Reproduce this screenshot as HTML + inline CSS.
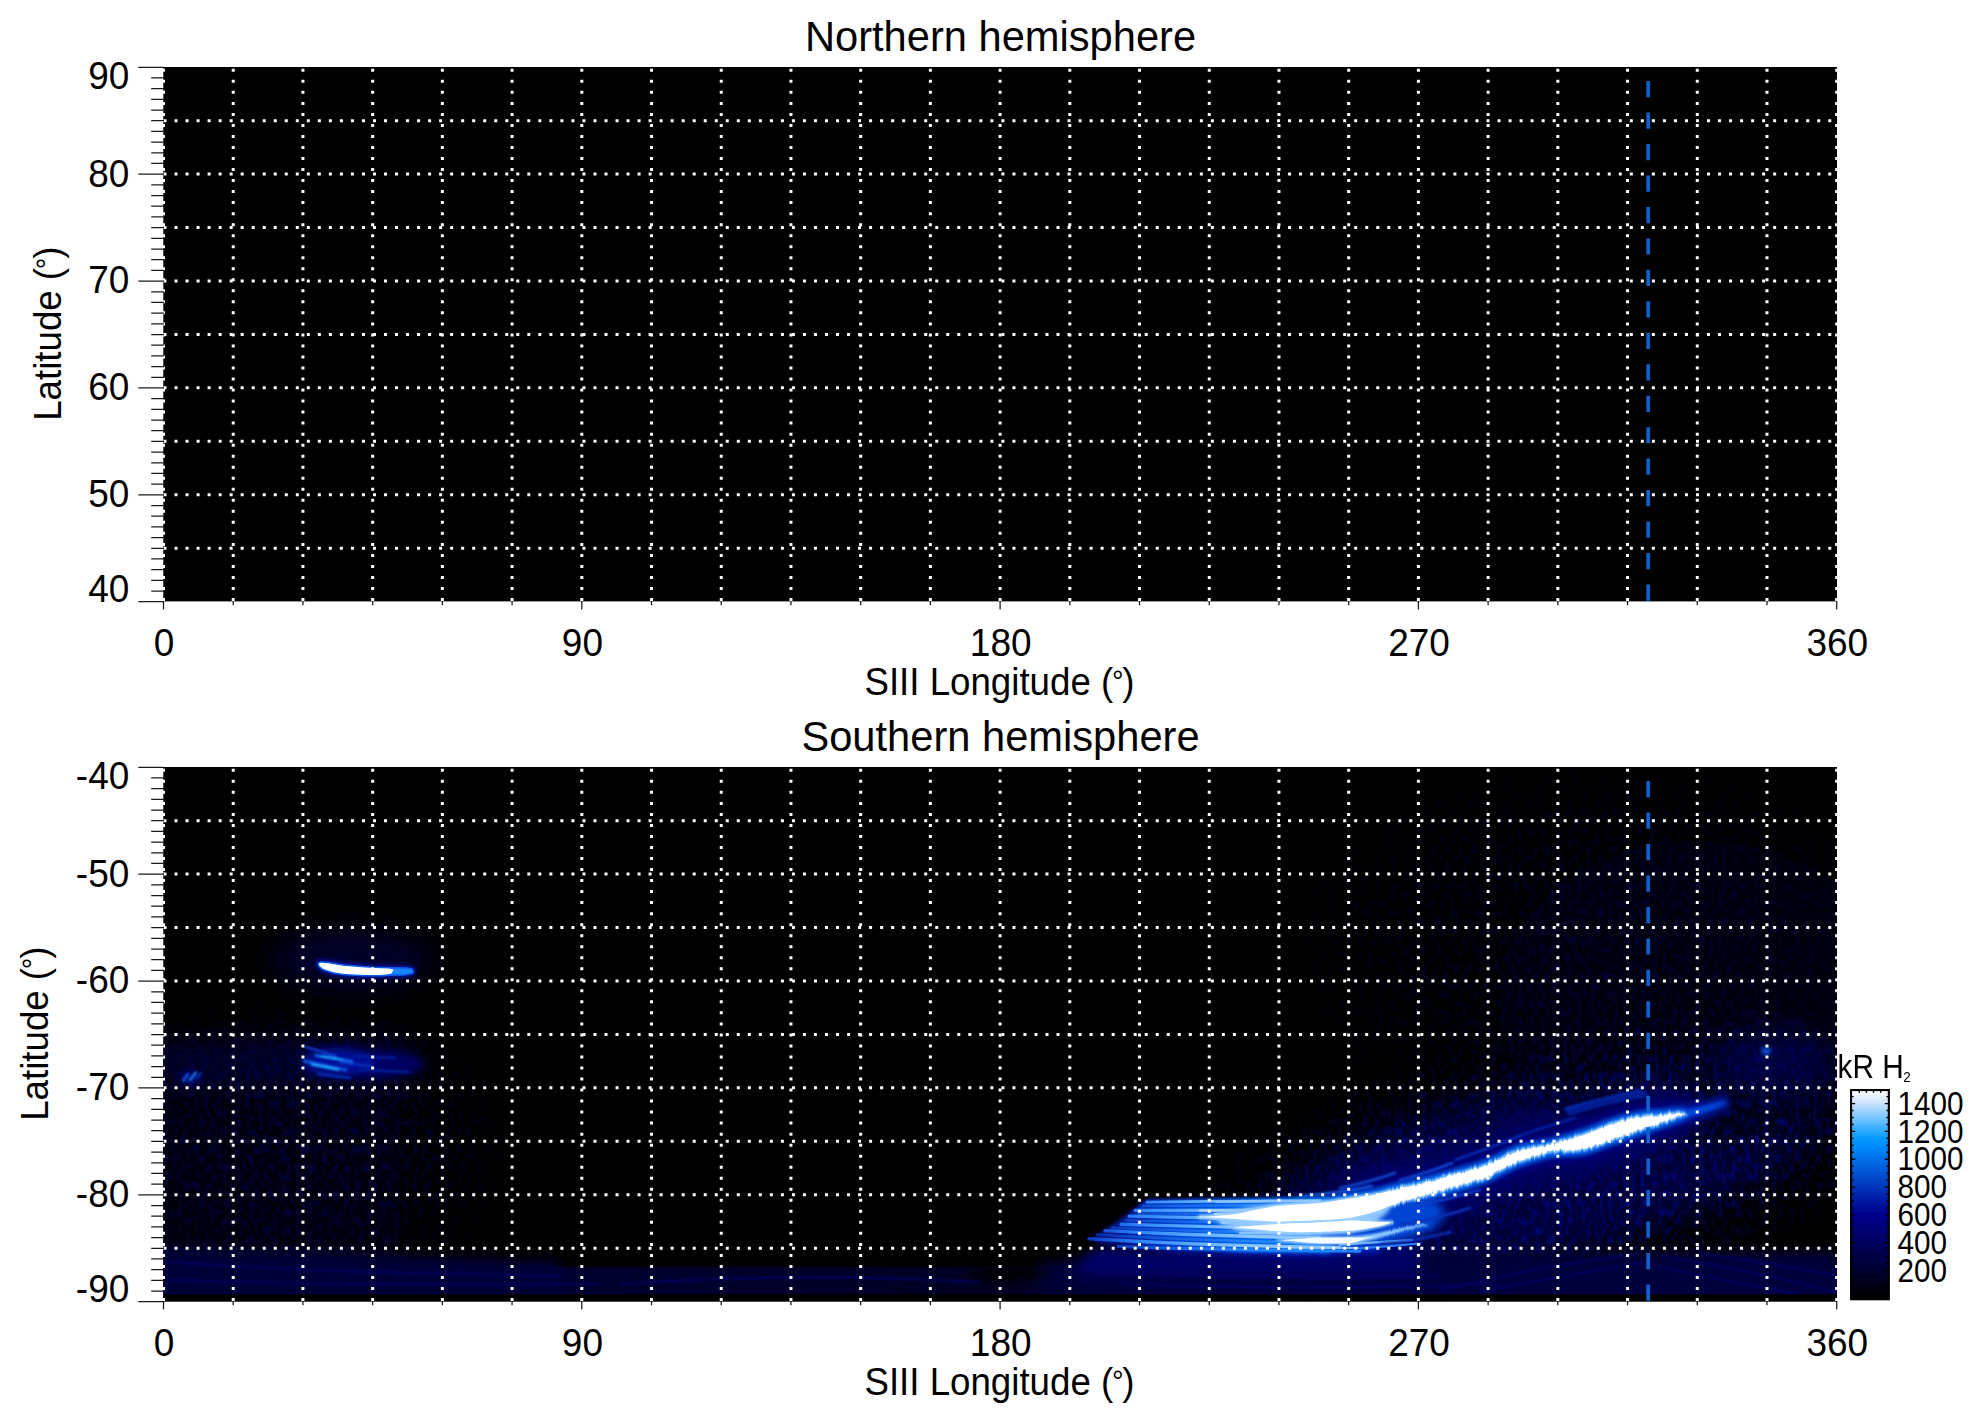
<!DOCTYPE html>
<html lang="en"><head><meta charset="utf-8"><title>Northern / Southern hemisphere maps</title>
<style>html,body{margin:0;padding:0;background:#fff;}body{width:1983px;height:1423px;overflow:hidden;}svg{display:block;}text{font-family:"Liberation Sans", Arial, Helvetica, sans-serif;fill:#000;}</style>
</head><body>
<svg width="1983" height="1423" viewBox="0 0 1983 1423">
<defs>
<linearGradient id="cbar" x1="0" y1="1" x2="0" y2="0">
<stop offset="0" stop-color="#000000"/>
<stop offset="0.41" stop-color="#00008e"/>
<stop offset="0.735" stop-color="#008bff"/>
<stop offset="0.77" stop-color="#009aff"/>
<stop offset="0.9377" stop-color="#c8e1ff"/>
<stop offset="1" stop-color="#fffcff"/>
</linearGradient>
<linearGradient id="band" x1="0" y1="0" x2="1" y2="0">
<stop offset="0" stop-color="#000038"/>
<stop offset="0.25" stop-color="#000030"/>
<stop offset="0.5" stop-color="#000024"/>
<stop offset="0.6" stop-color="#000040"/>
<stop offset="1" stop-color="#000040"/>
</linearGradient>
<linearGradient id="fanfill" gradientUnits="userSpaceOnUse" x1="1090" y1="0" x2="1470" y2="0">
<stop offset="0" stop-color="#000c60"/>
<stop offset="0.1" stop-color="#001c98"/>
<stop offset="0.22" stop-color="#0040d0"/>
<stop offset="0.4" stop-color="#0064f0"/>
<stop offset="0.6" stop-color="#0070f8"/>
<stop offset="0.85" stop-color="#0058e8"/>
<stop offset="1" stop-color="#0030c0"/>
</linearGradient>
<linearGradient id="sgL" gradientUnits="userSpaceOnUse" x1="1089" y1="0" x2="1250" y2="0">
<stop offset="0" stop-color="#0838c4"/>
<stop offset="0.3" stop-color="#2c84fc"/>
<stop offset="0.7" stop-color="#62b0ff"/>
<stop offset="1" stop-color="#8cc6ff"/>
</linearGradient>
<linearGradient id="sgD" gradientUnits="userSpaceOnUse" x1="1089" y1="0" x2="1250" y2="0">
<stop offset="0" stop-color="#0424a0"/>
<stop offset="0.4" stop-color="#0e58e0"/>
<stop offset="1" stop-color="#2484fc"/>
</linearGradient>
<clipPath id="clipL"><rect x="1100" y="1150" width="290" height="120"/></clipPath>
<clipPath id="clipR"><rect x="1390" y="1050" width="400" height="220"/></clipPath>
<clipPath id="clipS"><rect x="163.3" y="767" width="1673.7" height="534.4"/></clipPath>
<filter id="b14" x="-20%" y="-20%" width="140%" height="140%"><feGaussianBlur stdDeviation="14"/></filter>
<filter id="b10" x="-20%" y="-50%" width="140%" height="200%"><feGaussianBlur stdDeviation="10"/></filter>
<filter id="b6" x="-20%" y="-50%" width="140%" height="200%"><feGaussianBlur stdDeviation="6"/></filter>
<filter id="b5" x="-20%" y="-50%" width="140%" height="200%"><feGaussianBlur stdDeviation="5"/></filter>
<filter id="b3" x="-20%" y="-50%" width="140%" height="200%"><feGaussianBlur stdDeviation="3"/></filter>
<filter id="b2" x="-20%" y="-50%" width="140%" height="200%"><feGaussianBlur stdDeviation="2"/></filter>
<filter id="b15" x="-20%" y="-50%" width="140%" height="200%"><feGaussianBlur stdDeviation="1.5"/></filter>
<filter id="b1" x="-20%" y="-50%" width="140%" height="200%"><feGaussianBlur stdDeviation="1"/></filter>
<filter id="b07" x="-20%" y="-50%" width="140%" height="200%"><feGaussianBlur stdDeviation="0.7"/></filter>
<filter id="b06" x="-20%" y="-50%" width="140%" height="200%"><feGaussianBlur stdDeviation="0.6"/></filter>
<filter id="jag" x="-5%" y="-20%" width="110%" height="140%"><feTurbulence type="fractalNoise" baseFrequency="0.35 0.03" numOctaves="2" seed="7" result="n"/><feDisplacementMap in="SourceGraphic" in2="n" scale="5" xChannelSelector="R" yChannelSelector="G"/></filter>
<filter id="noise" x="0" y="0" width="100%" height="100%" color-interpolation-filters="sRGB"><feTurbulence type="fractalNoise" baseFrequency="0.22 0.11" numOctaves="2" seed="11"/><feColorMatrix type="matrix" values="0 0 0 0 0  0 0 0 0 0.02  0 0 0 0 0.5  2.8 0 0 0 -1.2"/></filter>
<radialGradient id="nm1" cx="0.5" cy="0.5" r="0.5"><stop offset="0" stop-color="#fff"/><stop offset="0.55" stop-color="#bbb"/><stop offset="1" stop-color="#000"/></radialGradient>
<mask id="noisemask" maskUnits="userSpaceOnUse" x="160" y="760" width="1680" height="545">
<rect x="160" y="760" width="1680" height="545" fill="#000"/>
<ellipse cx="1560" cy="1165" rx="400" ry="140" fill="url(#nm1)" transform="rotate(-12 1560 1165)"/>
<ellipse cx="1600" cy="950" rx="330" ry="200" fill="url(#nm1)" opacity="0.3"/>
<ellipse cx="300" cy="1150" rx="220" ry="160" fill="url(#nm1)" opacity="0.45"/>
</mask>
</defs>

<rect x="0" y="0" width="1983" height="1423" fill="#fff"/>
<g id="panel0">
<rect x="163.3" y="67.0" width="1673.7" height="534.4" fill="#000"/>
<path d="M163.50 601.00 V67.00 M233.22 601.00 V67.00 M302.93 601.00 V67.00 M372.65 601.00 V67.00 M442.37 601.00 V67.00 M512.08 601.00 V67.00 M581.80 601.00 V67.00 M651.52 601.00 V67.00 M721.23 601.00 V67.00 M790.95 601.00 V67.00 M860.67 601.00 V67.00 M930.38 601.00 V67.00 M1000.10 601.00 V67.00 M1069.82 601.00 V67.00 M1139.53 601.00 V67.00 M1209.25 601.00 V67.00 M1278.97 601.00 V67.00 M1348.68 601.00 V67.00 M1418.40 601.00 V67.00 M1488.12 601.00 V67.00 M1557.83 601.00 V67.00 M1627.55 601.00 V67.00 M1697.27 601.00 V67.00 M1766.98 601.00 V67.00 M1836.70 601.00 V67.00" stroke="#fff" stroke-width="3" stroke-dasharray="3 8.025" fill="none"/>
<path d="M163.50 120.64 H1836.70 M163.50 174.08 H1836.70 M163.50 227.52 H1836.70 M163.50 280.96 H1836.70 M163.50 334.40 H1836.70 M163.50 387.84 H1836.70 M163.50 441.28 H1836.70 M163.50 494.72 H1836.70 M163.50 548.16 H1836.70" stroke="#fff" stroke-width="3" stroke-dasharray="3 8.025" fill="none"/>
<path d="M1648.2 81.1 V601.4" stroke="#0e60cc" stroke-width="3.8" stroke-dasharray="16.2 15.26" fill="none"/>
<path d="M138.3 67.30 H164.00 M151.2 77.99 H164.00 M151.2 88.68 H164.00 M151.2 99.36 H164.00 M151.2 110.05 H164.00 M151.2 120.74 H164.00 M151.2 131.43 H164.00 M151.2 142.12 H164.00 M151.2 152.80 H164.00 M151.2 163.49 H164.00 M138.3 174.18 H164.00 M151.2 184.87 H164.00 M151.2 195.56 H164.00 M151.2 206.24 H164.00 M151.2 216.93 H164.00 M151.2 227.62 H164.00 M151.2 238.31 H164.00 M151.2 249.00 H164.00 M151.2 259.68 H164.00 M151.2 270.37 H164.00 M138.3 281.06 H164.00 M151.2 291.75 H164.00 M151.2 302.44 H164.00 M151.2 313.12 H164.00 M151.2 323.81 H164.00 M151.2 334.50 H164.00 M151.2 345.19 H164.00 M151.2 355.88 H164.00 M151.2 366.56 H164.00 M151.2 377.25 H164.00 M138.3 387.94 H164.00 M151.2 398.63 H164.00 M151.2 409.32 H164.00 M151.2 420.00 H164.00 M151.2 430.69 H164.00 M151.2 441.38 H164.00 M151.2 452.07 H164.00 M151.2 462.76 H164.00 M151.2 473.44 H164.00 M151.2 484.13 H164.00 M138.3 494.82 H164.00 M151.2 505.51 H164.00 M151.2 516.20 H164.00 M151.2 526.88 H164.00 M151.2 537.57 H164.00 M151.2 548.26 H164.00 M151.2 558.95 H164.00 M151.2 569.64 H164.00 M151.2 580.32 H164.00 M151.2 591.01 H164.00 M138.3 601.70 H164.00" stroke="#1a1a1a" stroke-width="1.25" fill="none"/>
<path d="M163.50 600.90 V609.40 M233.22 600.90 V605.20 M302.93 600.90 V605.20 M372.65 600.90 V605.20 M442.37 600.90 V605.20 M512.08 600.90 V605.20 M581.80 600.90 V609.40 M651.52 600.90 V605.20 M721.23 600.90 V605.20 M790.95 600.90 V605.20 M860.67 600.90 V605.20 M930.38 600.90 V605.20 M1000.10 600.90 V609.40 M1069.82 600.90 V605.20 M1139.53 600.90 V605.20 M1209.25 600.90 V605.20 M1278.97 600.90 V605.20 M1348.68 600.90 V605.20 M1418.40 600.90 V609.40 M1488.12 600.90 V605.20 M1557.83 600.90 V605.20 M1627.55 600.90 V605.20 M1697.27 600.90 V605.20 M1766.98 600.90 V605.20 M1836.70 600.90 V609.40" stroke="#1a1a1a" stroke-width="1.25" fill="none"/>
<text transform="translate(129.30 89.40) scale(1 1.050)" font-size="37.00" text-anchor="end">90</text>
<text transform="translate(129.30 186.58) scale(1 1.050)" font-size="37.00" text-anchor="end">80</text>
<text transform="translate(129.30 293.46) scale(1 1.050)" font-size="37.00" text-anchor="end">70</text>
<text transform="translate(129.30 400.34) scale(1 1.050)" font-size="37.00" text-anchor="end">60</text>
<text transform="translate(129.30 507.22) scale(1 1.050)" font-size="37.00" text-anchor="end">50</text>
<text transform="translate(129.30 601.60) scale(1 1.050)" font-size="37.00" text-anchor="end">40</text>
<text transform="translate(164.10 655.90) scale(1 1.050)" font-size="37.00" text-anchor="middle">0</text>
<text transform="translate(582.40 655.90) scale(1 1.050)" font-size="37.00" text-anchor="middle">90</text>
<text transform="translate(1000.70 655.90) scale(1 1.050)" font-size="37.00" text-anchor="middle">180</text>
<text transform="translate(1419.00 655.90) scale(1 1.050)" font-size="37.00" text-anchor="middle">270</text>
<text transform="translate(1837.30 655.90) scale(1 1.050)" font-size="37.00" text-anchor="middle">360</text>
<text transform="translate(999.50 695.00) scale(1 1.050)" font-size="36.70" text-anchor="middle">SIII Longitude (<tspan font-size="28.9" dx="-1.2" dy="-4">°</tspan><tspan dx="-1.2" dy="4">)</tspan></text>
<text transform="translate(1000.50 51.00) scale(1 1.030)" font-size="41.65" text-anchor="middle">Northern hemisphere</text>
<text transform="translate(61.20 333.70) rotate(-90) scale(1 1.050)" font-size="36.70" text-anchor="middle">Latitude (<tspan font-size="28.9" dx="-1.2" dy="-4">°</tspan><tspan dx="-1.2" dy="4">)</tspan></text>
</g>
<g id="panel1">
<rect x="163.3" y="767.0" width="1673.7" height="534.4" fill="#000"/>
<g id="aurora" clip-path="url(#clipS)">
<g filter="url(#b14)">
<ellipse cx="1540" cy="1170" rx="300" ry="85" fill="#000040" opacity="0.85" transform="rotate(-14 1540 1170)"/>
<ellipse cx="1700" cy="1000" rx="200" ry="160" fill="#00000a" opacity="0.8"/>
<ellipse cx="1500" cy="900" rx="250" ry="120" fill="#000007" opacity="0.8"/>
<ellipse cx="1775" cy="1062" rx="55" ry="28" fill="#000040" opacity="0.9"/>
<rect x="150" y="1040" width="262" height="44" fill="#00002c" opacity="0.9"/>
<rect x="150" y="1095" width="250" height="160" fill="#000012" opacity="0.9"/>
<ellipse cx="350" cy="960" rx="80" ry="30" fill="#00002a"/>
</g>
<g mask="url(#noisemask)"><rect x="163" y="767" width="1673" height="535" filter="url(#noise)"/></g>
<rect x="150" y="1267" width="1700" height="27.5" fill="url(#band)"/>
<g filter="url(#b6)">
<path d="M1040 1264 L1100 1256 L1836 1252 L1836 1290 L1040 1290Z" fill="#00003a"/>
<path d="M150 1245 L560 1262 L560 1290 L150 1290Z" fill="#000038"/>
<ellipse cx="1010" cy="1274" rx="45" ry="7" fill="#000"/>
</g>
<g filter="url(#b1)" fill="none" stroke="#00006c" stroke-width="2.2" opacity="0.8">
<path d="M1440 1290 Q1560 1262 1640 1254"/>
<path d="M1480 1292 Q1580 1272 1650 1262"/>
<path d="M1660 1256 Q1740 1268 1836 1292"/>
<path d="M1655 1266 Q1720 1280 1800 1294"/>
<path d="M1100 1272 Q1300 1280 1440 1276"/>
<path d="M1120 1284 Q1300 1290 1500 1284"/>
<path d="M1700 1254 Q1770 1262 1836 1276"/>
<path d="M170 1262 Q300 1272 560 1276"/>
<path d="M170 1280 Q340 1286 600 1284"/>
<path d="M620 1284 Q800 1272 980 1282"/>
</g>
<rect x="150" y="1294.6" width="1700" height="8" fill="#000"/>
<g filter="url(#b10)"><path d="M1349.0 1170.4 L1353.0 1170.0 L1357.0 1169.5 L1361.0 1168.9 L1365.0 1168.2 L1369.0 1167.5 L1373.0 1166.7 L1377.0 1165.9 L1381.0 1165.0 L1385.0 1163.9 L1389.0 1162.7 L1393.0 1161.7 L1397.0 1160.8 L1401.0 1159.9 L1405.0 1159.0 L1409.0 1158.2 L1413.0 1157.3 L1417.0 1156.4 L1421.0 1155.4 L1425.0 1154.4 L1429.0 1153.4 L1433.0 1152.4 L1437.0 1151.4 L1441.0 1150.4 L1445.0 1149.3 L1449.0 1148.3 L1453.0 1147.2 L1457.0 1146.0 L1461.0 1144.9 L1465.0 1143.8 L1469.0 1142.6 L1473.0 1141.4 L1477.0 1140.2 L1481.0 1138.9 L1485.0 1137.5 L1489.0 1135.9 L1493.0 1134.1 L1497.0 1132.2 L1501.0 1130.2 L1505.0 1128.3 L1509.0 1126.4 L1513.0 1124.7 L1517.0 1123.2 L1521.0 1122.0 L1525.0 1121.1 L1529.0 1120.3 L1533.0 1119.7 L1537.0 1119.1 L1541.0 1118.5 L1545.0 1117.8 L1549.0 1117.0 L1553.0 1116.1 L1557.0 1115.0 L1561.0 1113.8 L1565.0 1112.6 L1569.0 1111.3 L1573.0 1110.0 L1577.0 1108.7 L1581.0 1107.4 L1585.0 1106.2 L1589.0 1104.9 L1593.0 1103.4 L1597.0 1101.7 L1601.0 1100.0 L1605.0 1098.4 L1609.0 1096.9 L1613.0 1095.6 L1617.0 1094.3 L1621.0 1093.2 L1625.0 1092.2 L1629.0 1091.2 L1633.0 1090.4 L1637.0 1089.6 L1641.0 1088.9 L1645.0 1088.3 L1649.0 1087.9 L1653.0 1087.7 L1657.0 1087.5 L1661.0 1087.2 L1665.0 1086.9 L1669.0 1086.5 L1673.0 1086.2 L1677.0 1085.9 L1681.0 1085.7 L1706.0 1114.6 L1681.0 1143.6 L1677.0 1145.1 L1673.0 1146.5 L1669.0 1148.0 L1665.0 1149.4 L1661.0 1150.8 L1657.0 1152.1 L1653.0 1153.5 L1649.0 1154.8 L1645.0 1156.1 L1641.0 1157.4 L1637.0 1158.7 L1633.0 1160.1 L1629.0 1161.5 L1625.0 1162.9 L1621.0 1164.4 L1617.0 1165.8 L1613.0 1167.1 L1609.0 1168.5 L1605.0 1169.9 L1601.0 1171.5 L1597.0 1173.0 L1593.0 1174.4 L1589.0 1175.7 L1585.0 1176.8 L1581.0 1177.5 L1577.0 1178.0 L1573.0 1178.3 L1569.0 1178.4 L1565.0 1178.6 L1561.0 1178.7 L1557.0 1179.0 L1553.0 1179.5 L1549.0 1180.2 L1545.0 1181.2 L1541.0 1182.2 L1537.0 1183.4 L1533.0 1184.7 L1529.0 1186.0 L1525.0 1187.3 L1521.0 1188.7 L1517.0 1190.1 L1513.0 1191.8 L1509.0 1193.7 L1505.0 1195.8 L1501.0 1197.9 L1497.0 1200.0 L1493.0 1202.0 L1489.0 1203.9 L1485.0 1205.5 L1481.0 1206.9 L1477.0 1208.3 L1473.0 1209.5 L1469.0 1210.7 L1465.0 1211.9 L1461.0 1213.1 L1457.0 1214.2 L1453.0 1215.4 L1449.0 1216.6 L1445.0 1217.7 L1441.0 1218.9 L1437.0 1220.0 L1433.0 1221.1 L1429.0 1222.2 L1425.0 1223.4 L1421.0 1224.5 L1417.0 1225.7 L1413.0 1226.8 L1409.0 1228.0 L1405.0 1229.1 L1401.0 1230.3 L1397.0 1231.6 L1393.0 1232.9 L1389.0 1234.4 L1385.0 1236.1 L1381.0 1237.8 L1377.0 1239.2 L1373.0 1240.5 L1369.0 1241.7 L1365.0 1242.8 L1361.0 1243.8 L1357.0 1244.7 L1353.0 1245.5 L1349.0 1246.2 L1324.0 1208.3Z" fill="#000064"/></g>
<g filter="url(#b6)"><path d="M1080 1262 L1100 1247 L1180 1252 L1340 1252 L1420 1240 L1420 1275 L1080 1275Z" fill="#000066"/></g>
<g filter="url(#b5)"><path d="M1349.0 1189.9 L1353.0 1189.5 L1357.0 1189.0 L1361.0 1188.4 L1365.0 1187.7 L1369.0 1187.0 L1373.0 1186.2 L1377.0 1185.4 L1381.0 1184.5 L1385.0 1183.4 L1389.0 1182.2 L1393.0 1181.2 L1397.0 1180.3 L1401.0 1179.4 L1405.0 1178.5 L1409.0 1177.7 L1413.0 1176.8 L1417.0 1175.9 L1421.0 1174.9 L1425.0 1173.9 L1429.0 1172.9 L1433.0 1171.9 L1437.0 1170.9 L1441.0 1169.9 L1445.0 1168.8 L1449.0 1167.8 L1453.0 1166.7 L1457.0 1165.5 L1461.0 1164.4 L1465.0 1163.3 L1469.0 1162.1 L1473.0 1160.9 L1477.0 1159.7 L1481.0 1158.4 L1485.0 1157.0 L1489.0 1155.4 L1493.0 1153.6 L1497.0 1151.7 L1501.0 1149.7 L1505.0 1147.8 L1509.0 1145.9 L1513.0 1144.2 L1517.0 1142.7 L1521.0 1141.5 L1525.0 1140.6 L1529.0 1139.8 L1533.0 1139.2 L1537.0 1138.6 L1541.0 1138.0 L1545.0 1137.3 L1549.0 1136.5 L1553.0 1135.6 L1557.0 1134.5 L1561.0 1133.3 L1565.0 1132.1 L1569.0 1130.8 L1573.0 1129.5 L1577.0 1128.2 L1581.0 1126.9 L1585.0 1125.7 L1589.0 1124.4 L1593.0 1122.9 L1597.0 1121.2 L1601.0 1119.5 L1605.0 1117.9 L1609.0 1116.4 L1613.0 1115.1 L1617.0 1113.8 L1621.0 1112.7 L1625.0 1111.7 L1629.0 1110.7 L1633.0 1109.9 L1637.0 1109.1 L1641.0 1108.4 L1645.0 1107.8 L1649.0 1107.4 L1653.0 1107.2 L1657.0 1107.0 L1661.0 1106.7 L1665.0 1106.4 L1669.0 1106.0 L1673.0 1105.7 L1677.0 1105.4 L1681.0 1105.2 L1691.0 1114.6 L1681.0 1124.1 L1677.0 1125.6 L1673.0 1127.0 L1669.0 1128.5 L1665.0 1129.9 L1661.0 1131.3 L1657.0 1132.6 L1653.0 1134.0 L1649.0 1135.3 L1645.0 1136.6 L1641.0 1137.9 L1637.0 1139.2 L1633.0 1140.6 L1629.0 1142.0 L1625.0 1143.4 L1621.0 1144.9 L1617.0 1146.3 L1613.0 1147.6 L1609.0 1149.0 L1605.0 1150.4 L1601.0 1152.0 L1597.0 1153.5 L1593.0 1154.9 L1589.0 1156.2 L1585.0 1157.3 L1581.0 1158.0 L1577.0 1158.5 L1573.0 1158.8 L1569.0 1158.9 L1565.0 1159.1 L1561.0 1159.2 L1557.0 1159.5 L1553.0 1160.0 L1549.0 1160.7 L1545.0 1161.7 L1541.0 1162.7 L1537.0 1163.9 L1533.0 1165.2 L1529.0 1166.5 L1525.0 1167.8 L1521.0 1169.2 L1517.0 1170.6 L1513.0 1172.3 L1509.0 1174.2 L1505.0 1176.3 L1501.0 1178.4 L1497.0 1180.5 L1493.0 1182.5 L1489.0 1184.4 L1485.0 1186.0 L1481.0 1187.4 L1477.0 1188.8 L1473.0 1190.0 L1469.0 1191.2 L1465.0 1192.4 L1461.0 1193.6 L1457.0 1194.7 L1453.0 1195.9 L1449.0 1197.1 L1445.0 1198.2 L1441.0 1199.4 L1437.0 1200.5 L1433.0 1201.6 L1429.0 1202.7 L1425.0 1203.9 L1421.0 1205.0 L1417.0 1206.2 L1413.0 1207.3 L1409.0 1208.5 L1405.0 1209.6 L1401.0 1210.8 L1397.0 1212.1 L1393.0 1213.4 L1389.0 1214.9 L1385.0 1216.6 L1381.0 1218.3 L1377.0 1219.7 L1373.0 1221.0 L1369.0 1222.2 L1365.0 1223.3 L1361.0 1224.3 L1357.0 1225.2 L1353.0 1226.0 L1349.0 1226.7 L1339.0 1208.3Z" fill="#001098"/>
<path d="M1672.0 1108.3 L1676.0 1107.6 L1680.0 1106.8 L1684.0 1106.0 L1688.0 1105.2 L1692.0 1104.3 L1696.0 1103.4 L1700.0 1102.5 L1704.0 1101.5 L1708.0 1100.6 L1712.0 1099.6 L1716.0 1098.6 L1720.0 1097.6 L1724.0 1096.6 L1732.0 1103.0 L1724.0 1109.4 L1720.0 1111.0 L1716.0 1112.5 L1712.0 1114.0 L1708.0 1115.4 L1704.0 1116.8 L1700.0 1118.1 L1696.0 1119.2 L1692.0 1120.3 L1688.0 1121.3 L1684.0 1122.2 L1680.0 1123.1 L1676.0 1123.9 L1672.0 1124.7 L1664.0 1116.5Z" fill="#0018b0"/>
</g>
<g filter="url(#b3)"><path d="M1092 1241 L1146 1202 L1330 1201 L1380 1210 L1380 1253 L1300 1257 L1180 1253Z" fill="#0014a8"/></g>
<g filter="url(#b2)"><path d="M1200.0 1211.1 L1204.0 1210.9 L1208.0 1210.7 L1212.0 1210.4 L1216.0 1210.1 L1220.0 1209.8 L1224.0 1209.5 L1228.0 1209.2 L1232.0 1208.7 L1236.0 1208.2 L1240.0 1207.5 L1244.0 1206.6 L1248.0 1205.6 L1252.0 1204.7 L1256.0 1203.9 L1260.0 1203.1 L1264.0 1202.4 L1268.0 1201.6 L1272.0 1200.9 L1276.0 1200.3 L1280.0 1199.9 L1284.0 1199.6 L1288.0 1199.3 L1292.0 1199.0 L1296.0 1198.8 L1300.0 1198.6 L1304.0 1198.3 L1308.0 1198.1 L1312.0 1197.8 L1316.0 1197.5 L1320.0 1197.2 L1324.0 1196.8 L1328.0 1196.3 L1332.0 1195.7 L1336.0 1195.0 L1340.0 1194.3 L1344.0 1193.7 L1348.0 1193.0 L1352.0 1192.5 L1356.0 1191.9 L1360.0 1191.3 L1364.0 1190.7 L1368.0 1190.1 L1372.0 1189.4 L1376.0 1188.6 L1380.0 1187.7 L1384.0 1186.7 L1388.0 1185.5 L1392.0 1184.5 L1396.0 1183.5 L1400.0 1182.6 L1404.0 1181.8 L1408.0 1180.9 L1412.0 1180.0 L1416.0 1179.1 L1420.0 1178.2 L1424.0 1177.2 L1428.0 1176.2 L1432.0 1175.2 L1436.0 1174.2 L1440.0 1173.1 L1444.0 1172.1 L1448.0 1171.0 L1452.0 1169.9 L1456.0 1168.8 L1460.0 1167.7 L1464.0 1166.6 L1468.0 1165.4 L1472.0 1164.2 L1476.0 1163.0 L1480.0 1161.7 L1484.0 1160.4 L1488.0 1158.8 L1492.0 1157.1 L1496.0 1155.2 L1500.0 1153.2 L1504.0 1151.3 L1508.0 1149.4 L1512.0 1147.6 L1516.0 1146.1 L1520.0 1144.8 L1524.0 1143.8 L1528.0 1143.0 L1532.0 1142.3 L1536.0 1141.7 L1540.0 1141.1 L1544.0 1140.5 L1548.0 1139.7 L1552.0 1138.8 L1556.0 1137.8 L1560.0 1136.6 L1564.0 1135.4 L1568.0 1134.1 L1572.0 1132.8 L1576.0 1131.5 L1580.0 1130.2 L1584.0 1129.0 L1588.0 1127.7 L1592.0 1126.3 L1596.0 1124.7 L1600.0 1123.0 L1604.0 1121.3 L1608.0 1119.7 L1612.0 1118.4 L1616.0 1117.1 L1620.0 1116.0 L1624.0 1114.9 L1628.0 1114.0 L1632.0 1113.1 L1636.0 1112.3 L1640.0 1111.5 L1644.0 1110.9 L1648.0 1110.4 L1652.0 1110.2 L1656.0 1110.0 L1660.0 1109.8 L1664.0 1109.5 L1668.0 1109.1 L1672.0 1108.8 L1676.0 1108.5 L1680.0 1108.2 L1684.0 1108.0 L1692.0 1114.0 L1684.0 1120.0 L1680.0 1121.5 L1676.0 1123.0 L1672.0 1124.4 L1668.0 1125.8 L1664.0 1127.2 L1660.0 1128.6 L1656.0 1130.0 L1652.0 1131.3 L1648.0 1132.6 L1644.0 1133.9 L1640.0 1135.2 L1636.0 1136.5 L1632.0 1137.9 L1628.0 1139.4 L1624.0 1140.8 L1620.0 1142.2 L1616.0 1143.6 L1612.0 1145.0 L1608.0 1146.3 L1604.0 1147.8 L1600.0 1149.3 L1596.0 1150.9 L1592.0 1152.3 L1588.0 1153.5 L1584.0 1154.5 L1580.0 1155.2 L1576.0 1155.6 L1572.0 1155.8 L1568.0 1156.0 L1564.0 1156.1 L1560.0 1156.3 L1556.0 1156.6 L1552.0 1157.1 L1548.0 1157.9 L1544.0 1158.9 L1540.0 1160.0 L1536.0 1161.2 L1532.0 1162.5 L1528.0 1163.8 L1524.0 1165.2 L1520.0 1166.6 L1516.0 1168.0 L1512.0 1169.8 L1508.0 1171.7 L1504.0 1173.8 L1500.0 1175.9 L1496.0 1178.0 L1492.0 1180.0 L1488.0 1181.8 L1484.0 1183.4 L1480.0 1184.8 L1476.0 1186.1 L1472.0 1187.3 L1468.0 1188.5 L1464.0 1189.7 L1460.0 1190.9 L1456.0 1192.0 L1452.0 1193.2 L1448.0 1194.4 L1444.0 1195.5 L1440.0 1196.6 L1436.0 1197.8 L1432.0 1198.9 L1428.0 1200.0 L1424.0 1201.2 L1420.0 1202.3 L1416.0 1203.5 L1412.0 1204.6 L1408.0 1205.7 L1404.0 1206.9 L1400.0 1208.1 L1396.0 1209.4 L1392.0 1210.7 L1388.0 1212.3 L1384.0 1214.0 L1380.0 1215.7 L1376.0 1217.0 L1372.0 1218.3 L1368.0 1219.5 L1364.0 1220.5 L1360.0 1221.6 L1356.0 1222.4 L1352.0 1223.2 L1348.0 1223.8 L1344.0 1224.3 L1340.0 1224.7 L1336.0 1225.1 L1332.0 1225.3 L1328.0 1225.6 L1324.0 1225.8 L1320.0 1225.9 L1316.0 1226.1 L1312.0 1226.3 L1308.0 1226.5 L1304.0 1226.6 L1300.0 1226.7 L1296.0 1226.9 L1292.0 1227.0 L1288.0 1227.1 L1284.0 1227.2 L1280.0 1227.3 L1276.0 1227.3 L1272.0 1227.3 L1268.0 1227.1 L1264.0 1226.9 L1260.0 1226.6 L1256.0 1226.4 L1252.0 1226.1 L1248.0 1225.8 L1244.0 1225.5 L1240.0 1225.2 L1236.0 1224.8 L1232.0 1224.6 L1228.0 1224.3 L1224.0 1224.1 L1220.0 1223.9 L1216.0 1223.7 L1212.0 1223.4 L1208.0 1223.3 L1204.0 1223.1 L1200.0 1222.9 L1192.0 1217.0Z" fill="#0068f0"/>
<path d="M1672.0 1112.8 L1676.0 1112.1 L1680.0 1111.3 L1684.0 1110.5 L1688.0 1109.7 L1692.0 1108.8 L1696.0 1107.9 L1700.0 1107.0 L1704.0 1106.0 L1708.0 1105.1 L1712.0 1104.1 L1716.0 1103.1 L1720.0 1102.1 L1724.0 1101.1 L1728.0 1103.0 L1724.0 1104.9 L1720.0 1106.5 L1716.0 1108.0 L1712.0 1109.5 L1708.0 1110.9 L1704.0 1112.3 L1700.0 1113.6 L1696.0 1114.7 L1692.0 1115.8 L1688.0 1116.8 L1684.0 1117.7 L1680.0 1118.6 L1676.0 1119.4 L1672.0 1120.2 L1668.0 1116.5Z" fill="#0050e0"/>
<path d="M1235.0 1221.9 L1239.0 1221.6 L1243.0 1221.3 L1247.0 1220.9 L1251.0 1220.6 L1255.0 1220.3 L1259.0 1220.1 L1263.0 1219.8 L1267.0 1219.5 L1271.0 1219.2 L1275.0 1218.9 L1279.0 1218.6 L1283.0 1218.4 L1287.0 1218.2 L1291.0 1218.0 L1295.0 1218.0 L1299.0 1217.8 L1303.0 1217.7 L1307.0 1217.6 L1311.0 1217.4 L1315.0 1217.2 L1319.0 1217.0 L1323.0 1216.8 L1327.0 1216.5 L1331.0 1216.3 L1335.0 1216.1 L1339.0 1215.9 L1343.0 1215.7 L1347.0 1215.5 L1351.0 1215.3 L1355.0 1215.3 L1359.0 1215.5 L1363.0 1215.7 L1367.0 1216.0 L1371.0 1216.3 L1375.0 1216.5 L1379.0 1216.7 L1383.0 1216.8 L1387.0 1216.9 L1391.0 1216.9 L1399.0 1222.4 L1391.0 1227.9 L1387.0 1229.2 L1383.0 1230.5 L1379.0 1231.5 L1375.0 1232.3 L1371.0 1233.1 L1367.0 1233.8 L1363.0 1234.5 L1359.0 1235.1 L1355.0 1235.6 L1351.0 1235.9 L1347.0 1236.1 L1343.0 1236.3 L1339.0 1236.4 L1335.0 1236.6 L1331.0 1236.8 L1327.0 1236.9 L1323.0 1237.1 L1319.0 1237.2 L1315.0 1237.3 L1311.0 1237.4 L1307.0 1237.4 L1303.0 1237.5 L1299.0 1237.5 L1295.0 1237.4 L1291.0 1237.3 L1287.0 1237.2 L1283.0 1236.9 L1279.0 1236.6 L1275.0 1236.3 L1271.0 1236.0 L1267.0 1235.6 L1263.0 1235.2 L1259.0 1234.9 L1255.0 1234.6 L1251.0 1234.3 L1247.0 1233.9 L1243.0 1233.6 L1239.0 1233.3 L1235.0 1232.9 L1227.0 1227.4Z" fill="#0068f0"/>
<path d="M1280.0 1236.2 L1284.0 1235.9 L1288.0 1235.5 L1292.0 1235.2 L1296.0 1234.9 L1300.0 1234.6 L1304.0 1234.4 L1308.0 1234.2 L1312.0 1234.1 L1316.0 1233.9 L1320.0 1233.9 L1324.0 1233.9 L1328.0 1233.9 L1332.0 1233.9 L1336.0 1233.8 L1340.0 1233.8 L1344.0 1233.8 L1348.0 1233.7 L1352.0 1233.6 L1356.0 1233.4 L1360.0 1233.1 L1364.0 1232.6 L1368.0 1232.1 L1372.0 1231.6 L1376.0 1230.9 L1380.0 1230.1 L1384.0 1229.2 L1388.0 1228.3 L1392.0 1227.4 L1396.0 1226.6 L1400.0 1225.8 L1404.0 1225.1 L1408.0 1224.3 L1412.0 1223.6 L1416.0 1222.9 L1420.0 1222.2 L1424.0 1221.5 L1434.0 1225.0 L1424.0 1228.5 L1420.0 1229.4 L1416.0 1230.4 L1412.0 1231.4 L1408.0 1232.4 L1404.0 1233.4 L1400.0 1234.5 L1396.0 1235.5 L1392.0 1236.6 L1388.0 1237.8 L1384.0 1239.0 L1380.0 1240.2 L1376.0 1241.4 L1372.0 1242.4 L1368.0 1243.4 L1364.0 1244.4 L1360.0 1245.4 L1356.0 1246.2 L1352.0 1246.7 L1348.0 1246.9 L1344.0 1247.0 L1340.0 1247.0 L1336.0 1247.0 L1332.0 1247.1 L1328.0 1247.1 L1324.0 1247.1 L1320.0 1247.1 L1316.0 1247.0 L1312.0 1246.9 L1308.0 1246.7 L1304.0 1246.5 L1300.0 1246.2 L1296.0 1245.9 L1292.0 1245.5 L1288.0 1245.1 L1284.0 1244.7 L1280.0 1244.2 L1270.0 1240.2Z" fill="#0060e8"/>
</g>
<g filter="url(#b15)"><path d="M1090 1239.5 L1120 1221.5 L1147 1199.3 L1300 1197.5 L1330 1198 L1330 1253.5 L1240 1252.5 L1180 1249 L1130 1244.5Z" fill="url(#fanfill)"/></g>
<g filter="url(#b5)"><path d="M1320 1204 L1400 1196 L1436 1200 L1446 1214 L1434 1228 L1408 1239 L1380 1246 L1320 1250Z" fill="#0044d4"/></g>
<g filter="url(#b07)" stroke-linecap="round" fill="none">
<path d="M1147.0 1202.2 Q1224.8 1201.0 1320.0 1200.6" stroke="url(#sgL)" stroke-width="2.8"/>
<path d="M1143.0 1206.0 Q1222.7 1205.1 1320.0 1204.8" stroke="url(#sgD)" stroke-width="2.4"/>
<path d="M1135.0 1210.3 Q1218.2 1210.2 1320.0 1210.2" stroke="url(#sgL)" stroke-width="3.2"/>
<path d="M1138.0 1213.6 Q1219.9 1213.9 1320.0 1214.0" stroke="url(#sgD)" stroke-width="2.4"/>
<path d="M1129.0 1216.2 Q1215.0 1218.0 1320.0 1218.6" stroke="url(#sgL)" stroke-width="3.2"/>
<path d="M1126.0 1220.2 Q1213.3 1222.6 1320.0 1223.4" stroke="url(#sgD)" stroke-width="2.4"/>
<path d="M1121.0 1224.2 Q1210.5 1227.4 1320.0 1228.4" stroke="url(#sgL)" stroke-width="3.4"/>
<path d="M1112.0 1227.6 Q1205.6 1232.0 1320.0 1233.4" stroke="url(#sgD)" stroke-width="2.6"/>
<path d="M1105.0 1230.6 Q1201.8 1236.0 1320.0 1237.8" stroke="url(#sgL)" stroke-width="3.4"/>
<path d="M1097.0 1234.6 Q1197.3 1240.6 1320.0 1242.6" stroke="url(#sgD)" stroke-width="2.8"/>
<path d="M1089.0 1238.8 Q1202.0 1245.4 1340.0 1247.6" stroke="url(#sgL)" stroke-width="3.4"/>
<path d="M1118.0 1246.6 Q1226.9 1250.0 1360.0 1251.2" stroke="url(#sgD)" stroke-width="3.0"/>
</g>
<g filter="url(#b07)" stroke-linecap="round" fill="none">
<path d="M1200.0 1210.5 L1300.0 1210.2" stroke="#a8d0ff" stroke-width="2.6"/>
<path d="M1215.0 1214.0 L1300.0 1214.0" stroke="#c8e2ff" stroke-width="2.6"/>
<path d="M1212.0 1218.0 L1300.0 1218.5" stroke="#d4e8ff" stroke-width="3.0"/>
<path d="M1222.0 1222.6 L1300.0 1223.3" stroke="#a8d0ff" stroke-width="2.6"/>
<path d="M1240.0 1227.4 L1300.0 1228.2" stroke="#e0efff" stroke-width="3.0"/>
<path d="M1216.0 1202.0 L1300.0 1201.0" stroke="#8cc2ff" stroke-width="2.0"/>
<path d="M1240.0 1233.0 L1310.0 1233.6" stroke="#8cc2ff" stroke-width="2.4"/>
<path d="M1290.0 1247.4 L1358.0 1248.0" stroke="#8cc4ff" stroke-width="2.2"/>
<path d="M1340.0 1244.6 L1412.0 1240.0" stroke="#6ab0ff" stroke-width="2.4"/>
<path d="M1360.0 1248.4 L1420.0 1243.5" stroke="#2c80f8" stroke-width="2.2"/>
</g>
<g filter="url(#b2)"><path d="M1218 1214 L1250 1207 L1300 1203 L1360 1200 L1392 1199 L1388 1212 L1372 1226 L1350 1233 L1320 1235 L1280 1235 L1240 1231 L1218 1223Z" fill="#8cc4ff"/></g>
<g clip-path="url(#clipL)">
<g filter="url(#b1)"><path d="M1200.0 1214.8 L1204.0 1214.6 L1208.0 1214.4 L1212.0 1214.1 L1216.0 1213.8 L1220.0 1213.5 L1224.0 1213.2 L1228.0 1212.9 L1232.0 1212.4 L1236.0 1211.9 L1240.0 1211.2 L1244.0 1210.3 L1248.0 1209.3 L1252.0 1208.4 L1256.0 1207.6 L1260.0 1206.8 L1264.0 1206.1 L1268.0 1205.3 L1272.0 1204.6 L1276.0 1204.0 L1280.0 1203.6 L1284.0 1203.3 L1288.0 1203.0 L1292.0 1202.7 L1296.0 1202.5 L1300.0 1202.3 L1304.0 1202.0 L1308.0 1201.8 L1312.0 1201.5 L1316.0 1201.2 L1320.0 1200.9 L1324.0 1200.5 L1328.0 1200.0 L1332.0 1199.4 L1336.0 1198.7 L1340.0 1198.0 L1344.0 1197.4 L1348.0 1196.7 L1352.0 1196.2 L1356.0 1195.6 L1360.0 1195.0 L1364.0 1194.4 L1368.0 1193.8 L1372.0 1193.1 L1376.0 1192.3 L1380.0 1191.4 L1384.0 1190.4 L1388.0 1189.2 L1392.0 1188.2 L1396.0 1187.2 L1400.0 1186.3 L1404.0 1185.5 L1408.0 1184.6 L1412.0 1183.7 L1416.0 1182.8 L1420.0 1181.9 L1424.0 1180.9 L1428.0 1179.9 L1432.0 1178.9 L1436.0 1177.9 L1440.0 1176.8 L1444.0 1175.8 L1448.0 1174.7 L1452.0 1173.6 L1456.0 1172.5 L1460.0 1171.4 L1464.0 1170.3 L1468.0 1169.1 L1472.0 1167.9 L1476.0 1166.7 L1480.0 1165.4 L1484.0 1164.1 L1488.0 1162.5 L1492.0 1160.8 L1496.0 1158.9 L1500.0 1156.9 L1504.0 1155.0 L1508.0 1153.1 L1512.0 1151.3 L1516.0 1149.8 L1520.0 1148.5 L1524.0 1147.5 L1528.0 1146.7 L1532.0 1146.0 L1536.0 1145.4 L1540.0 1144.8 L1544.0 1144.2 L1548.0 1143.4 L1552.0 1142.5 L1556.0 1141.5 L1560.0 1140.3 L1564.0 1139.1 L1568.0 1137.8 L1572.0 1136.5 L1576.0 1135.2 L1580.0 1133.9 L1584.0 1132.7 L1588.0 1131.4 L1592.0 1130.0 L1596.0 1128.4 L1600.0 1126.7 L1604.0 1125.0 L1608.0 1123.4 L1612.0 1122.1 L1616.0 1120.8 L1620.0 1119.7 L1624.0 1118.6 L1628.0 1117.7 L1632.0 1116.8 L1636.0 1116.0 L1640.0 1115.2 L1644.0 1114.6 L1648.0 1114.1 L1652.0 1113.9 L1656.0 1113.7 L1660.0 1113.5 L1664.0 1113.2 L1668.0 1112.8 L1672.0 1112.5 L1676.0 1112.2 L1680.0 1111.9 L1684.0 1111.7 L1688.0 1114.0 L1684.0 1116.3 L1680.0 1117.8 L1676.0 1119.3 L1672.0 1120.7 L1668.0 1122.1 L1664.0 1123.5 L1660.0 1124.9 L1656.0 1126.3 L1652.0 1127.6 L1648.0 1128.9 L1644.0 1130.2 L1640.0 1131.5 L1636.0 1132.8 L1632.0 1134.2 L1628.0 1135.7 L1624.0 1137.1 L1620.0 1138.5 L1616.0 1139.9 L1612.0 1141.3 L1608.0 1142.6 L1604.0 1144.1 L1600.0 1145.6 L1596.0 1147.2 L1592.0 1148.6 L1588.0 1149.8 L1584.0 1150.8 L1580.0 1151.5 L1576.0 1151.9 L1572.0 1152.1 L1568.0 1152.3 L1564.0 1152.4 L1560.0 1152.6 L1556.0 1152.9 L1552.0 1153.4 L1548.0 1154.2 L1544.0 1155.2 L1540.0 1156.3 L1536.0 1157.5 L1532.0 1158.8 L1528.0 1160.1 L1524.0 1161.5 L1520.0 1162.9 L1516.0 1164.3 L1512.0 1166.1 L1508.0 1168.0 L1504.0 1170.1 L1500.0 1172.2 L1496.0 1174.3 L1492.0 1176.3 L1488.0 1178.1 L1484.0 1179.7 L1480.0 1181.1 L1476.0 1182.4 L1472.0 1183.6 L1468.0 1184.8 L1464.0 1186.0 L1460.0 1187.2 L1456.0 1188.3 L1452.0 1189.5 L1448.0 1190.7 L1444.0 1191.8 L1440.0 1192.9 L1436.0 1194.1 L1432.0 1195.2 L1428.0 1196.3 L1424.0 1197.5 L1420.0 1198.6 L1416.0 1199.8 L1412.0 1200.9 L1408.0 1202.0 L1404.0 1203.2 L1400.0 1204.4 L1396.0 1205.7 L1392.0 1207.0 L1388.0 1208.6 L1384.0 1210.3 L1380.0 1212.0 L1376.0 1213.3 L1372.0 1214.6 L1368.0 1215.8 L1364.0 1216.8 L1360.0 1217.9 L1356.0 1218.7 L1352.0 1219.5 L1348.0 1220.1 L1344.0 1220.6 L1340.0 1221.0 L1336.0 1221.4 L1332.0 1221.6 L1328.0 1221.9 L1324.0 1222.1 L1320.0 1222.2 L1316.0 1222.4 L1312.0 1222.6 L1308.0 1222.8 L1304.0 1222.9 L1300.0 1223.0 L1296.0 1223.2 L1292.0 1223.3 L1288.0 1223.4 L1284.0 1223.5 L1280.0 1223.6 L1276.0 1223.6 L1272.0 1223.6 L1268.0 1223.4 L1264.0 1223.2 L1260.0 1222.9 L1256.0 1222.7 L1252.0 1222.4 L1248.0 1222.1 L1244.0 1221.8 L1240.0 1221.5 L1236.0 1221.1 L1232.0 1220.9 L1228.0 1220.6 L1224.0 1220.4 L1220.0 1220.2 L1216.0 1220.0 L1212.0 1219.7 L1208.0 1219.6 L1204.0 1219.4 L1200.0 1219.2 L1196.0 1217.0Z" fill="#9cd0ff"/>
<path d="M1235.0 1225.4 L1239.0 1225.1 L1243.0 1224.8 L1247.0 1224.4 L1251.0 1224.1 L1255.0 1223.8 L1259.0 1223.6 L1263.0 1223.3 L1267.0 1223.0 L1271.0 1222.7 L1275.0 1222.4 L1279.0 1222.1 L1283.0 1221.9 L1287.0 1221.7 L1291.0 1221.5 L1295.0 1221.5 L1299.0 1221.3 L1303.0 1221.2 L1307.0 1221.1 L1311.0 1220.9 L1315.0 1220.7 L1319.0 1220.5 L1323.0 1220.3 L1327.0 1220.0 L1331.0 1219.8 L1335.0 1219.6 L1339.0 1219.4 L1343.0 1219.2 L1347.0 1219.0 L1351.0 1218.8 L1355.0 1218.8 L1359.0 1219.0 L1363.0 1219.2 L1367.0 1219.5 L1371.0 1219.8 L1375.0 1220.0 L1379.0 1220.2 L1383.0 1220.3 L1387.0 1220.4 L1391.0 1220.4 L1395.0 1222.4 L1391.0 1224.4 L1387.0 1225.7 L1383.0 1227.0 L1379.0 1228.0 L1375.0 1228.8 L1371.0 1229.6 L1367.0 1230.3 L1363.0 1231.0 L1359.0 1231.6 L1355.0 1232.1 L1351.0 1232.4 L1347.0 1232.6 L1343.0 1232.8 L1339.0 1232.9 L1335.0 1233.1 L1331.0 1233.3 L1327.0 1233.4 L1323.0 1233.6 L1319.0 1233.7 L1315.0 1233.8 L1311.0 1233.9 L1307.0 1233.9 L1303.0 1234.0 L1299.0 1234.0 L1295.0 1233.9 L1291.0 1233.8 L1287.0 1233.7 L1283.0 1233.4 L1279.0 1233.1 L1275.0 1232.8 L1271.0 1232.5 L1267.0 1232.1 L1263.0 1231.7 L1259.0 1231.4 L1255.0 1231.1 L1251.0 1230.8 L1247.0 1230.4 L1243.0 1230.1 L1239.0 1229.8 L1235.0 1229.4 L1231.0 1227.4Z" fill="#9cd0ff"/>
<path d="M1280.0 1238.6 L1284.0 1238.3 L1288.0 1237.9 L1292.0 1237.6 L1296.0 1237.3 L1300.0 1237.0 L1304.0 1236.8 L1308.0 1236.6 L1312.0 1236.5 L1316.0 1236.3 L1320.0 1236.3 L1324.0 1236.3 L1328.0 1236.3 L1332.0 1236.3 L1336.0 1236.2 L1340.0 1236.2 L1344.0 1236.2 L1348.0 1236.1 L1352.0 1236.0 L1356.0 1235.8 L1360.0 1235.5 L1364.0 1235.0 L1368.0 1234.5 L1372.0 1234.0 L1376.0 1233.3 L1380.0 1232.5 L1384.0 1231.6 L1388.0 1230.7 L1392.0 1229.8 L1396.0 1229.0 L1400.0 1228.2 L1404.0 1227.5 L1408.0 1226.7 L1412.0 1226.0 L1416.0 1225.3 L1420.0 1224.6 L1424.0 1223.9 L1429.0 1225.0 L1424.0 1226.1 L1420.0 1227.0 L1416.0 1228.0 L1412.0 1229.0 L1408.0 1230.0 L1404.0 1231.0 L1400.0 1232.1 L1396.0 1233.1 L1392.0 1234.2 L1388.0 1235.4 L1384.0 1236.6 L1380.0 1237.8 L1376.0 1239.0 L1372.0 1240.0 L1368.0 1241.0 L1364.0 1242.0 L1360.0 1243.0 L1356.0 1243.8 L1352.0 1244.3 L1348.0 1244.5 L1344.0 1244.6 L1340.0 1244.6 L1336.0 1244.6 L1332.0 1244.7 L1328.0 1244.7 L1324.0 1244.7 L1320.0 1244.7 L1316.0 1244.6 L1312.0 1244.5 L1308.0 1244.3 L1304.0 1244.1 L1300.0 1243.8 L1296.0 1243.5 L1292.0 1243.1 L1288.0 1242.7 L1284.0 1242.3 L1280.0 1241.8 L1275.0 1240.2Z" fill="#8cc8ff"/>
</g>
<g filter="url(#b06)"><path d="M1200.0 1216.8 L1204.0 1216.7 L1208.0 1216.5 L1212.0 1216.2 L1216.0 1215.9 L1220.0 1215.6 L1224.0 1215.3 L1228.0 1215.0 L1232.0 1214.5 L1236.0 1214.0 L1240.0 1213.3 L1244.0 1212.4 L1248.0 1211.4 L1252.0 1210.5 L1256.0 1209.7 L1260.0 1208.9 L1264.0 1208.2 L1268.0 1207.4 L1272.0 1206.7 L1276.0 1206.1 L1280.0 1205.7 L1284.0 1205.4 L1288.0 1205.1 L1292.0 1204.8 L1296.0 1204.6 L1300.0 1204.4 L1304.0 1204.1 L1308.0 1203.9 L1312.0 1203.6 L1316.0 1203.3 L1320.0 1203.0 L1324.0 1202.6 L1328.0 1202.1 L1332.0 1201.5 L1336.0 1200.8 L1340.0 1200.1 L1344.0 1199.5 L1348.0 1198.8 L1352.0 1198.3 L1356.0 1197.7 L1360.0 1197.1 L1364.0 1196.5 L1368.0 1195.9 L1372.0 1195.2 L1376.0 1194.4 L1380.0 1193.5 L1384.0 1192.5 L1388.0 1191.3 L1392.0 1190.3 L1396.0 1189.3 L1400.0 1188.4 L1404.0 1187.6 L1408.0 1186.7 L1412.0 1185.8 L1416.0 1184.9 L1420.0 1184.0 L1424.0 1183.0 L1428.0 1182.0 L1432.0 1181.0 L1436.0 1180.0 L1440.0 1178.9 L1444.0 1177.9 L1448.0 1176.8 L1452.0 1175.7 L1456.0 1174.6 L1460.0 1173.5 L1464.0 1172.4 L1468.0 1171.2 L1472.0 1170.0 L1476.0 1168.8 L1480.0 1167.5 L1484.0 1166.2 L1488.0 1164.6 L1492.0 1162.9 L1496.0 1161.0 L1500.0 1159.0 L1504.0 1157.1 L1508.0 1155.2 L1512.0 1153.4 L1516.0 1151.9 L1520.0 1150.6 L1524.0 1149.6 L1528.0 1148.8 L1532.0 1148.1 L1536.0 1147.5 L1540.0 1146.9 L1544.0 1146.3 L1548.0 1145.5 L1552.0 1144.6 L1556.0 1143.6 L1560.0 1142.4 L1564.0 1141.2 L1568.0 1139.9 L1572.0 1138.6 L1576.0 1137.3 L1580.0 1136.0 L1584.0 1134.8 L1588.0 1133.5 L1592.0 1132.1 L1596.0 1130.5 L1600.0 1128.8 L1604.0 1127.1 L1608.0 1125.5 L1612.0 1124.2 L1616.0 1122.9 L1620.0 1121.8 L1624.0 1120.7 L1628.0 1119.8 L1632.0 1118.9 L1636.0 1118.1 L1640.0 1117.3 L1644.0 1116.7 L1648.0 1116.2 L1652.0 1116.0 L1656.0 1115.8 L1660.0 1115.6 L1664.0 1115.3 L1668.0 1114.9 L1672.0 1114.6 L1676.0 1114.3 L1680.0 1114.0 L1684.0 1113.8 L1686.0 1114.0 L1684.0 1114.2 L1680.0 1115.7 L1676.0 1117.2 L1672.0 1118.6 L1668.0 1120.0 L1664.0 1121.4 L1660.0 1122.8 L1656.0 1124.2 L1652.0 1125.5 L1648.0 1126.8 L1644.0 1128.1 L1640.0 1129.4 L1636.0 1130.7 L1632.0 1132.1 L1628.0 1133.6 L1624.0 1135.0 L1620.0 1136.4 L1616.0 1137.8 L1612.0 1139.2 L1608.0 1140.5 L1604.0 1142.0 L1600.0 1143.5 L1596.0 1145.1 L1592.0 1146.5 L1588.0 1147.7 L1584.0 1148.7 L1580.0 1149.4 L1576.0 1149.8 L1572.0 1150.0 L1568.0 1150.2 L1564.0 1150.3 L1560.0 1150.5 L1556.0 1150.8 L1552.0 1151.3 L1548.0 1152.1 L1544.0 1153.1 L1540.0 1154.2 L1536.0 1155.4 L1532.0 1156.7 L1528.0 1158.0 L1524.0 1159.4 L1520.0 1160.8 L1516.0 1162.2 L1512.0 1164.0 L1508.0 1165.9 L1504.0 1168.0 L1500.0 1170.1 L1496.0 1172.2 L1492.0 1174.2 L1488.0 1176.0 L1484.0 1177.6 L1480.0 1179.0 L1476.0 1180.3 L1472.0 1181.5 L1468.0 1182.7 L1464.0 1183.9 L1460.0 1185.1 L1456.0 1186.2 L1452.0 1187.4 L1448.0 1188.6 L1444.0 1189.7 L1440.0 1190.8 L1436.0 1192.0 L1432.0 1193.1 L1428.0 1194.2 L1424.0 1195.4 L1420.0 1196.5 L1416.0 1197.7 L1412.0 1198.8 L1408.0 1199.9 L1404.0 1201.1 L1400.0 1202.3 L1396.0 1203.6 L1392.0 1204.9 L1388.0 1206.5 L1384.0 1208.2 L1380.0 1209.9 L1376.0 1211.2 L1372.0 1212.5 L1368.0 1213.7 L1364.0 1214.7 L1360.0 1215.8 L1356.0 1216.6 L1352.0 1217.4 L1348.0 1218.0 L1344.0 1218.5 L1340.0 1218.9 L1336.0 1219.3 L1332.0 1219.5 L1328.0 1219.8 L1324.0 1220.0 L1320.0 1220.1 L1316.0 1220.3 L1312.0 1220.5 L1308.0 1220.7 L1304.0 1220.8 L1300.0 1220.9 L1296.0 1221.1 L1292.0 1221.2 L1288.0 1221.3 L1284.0 1221.4 L1280.0 1221.5 L1276.0 1221.5 L1272.0 1221.5 L1268.0 1221.3 L1264.0 1221.1 L1260.0 1220.8 L1256.0 1220.6 L1252.0 1220.3 L1248.0 1220.0 L1244.0 1219.7 L1240.0 1219.4 L1236.0 1219.0 L1232.0 1218.8 L1228.0 1218.5 L1224.0 1218.3 L1220.0 1218.1 L1216.0 1217.9 L1212.0 1217.6 L1208.0 1217.5 L1204.0 1217.3 L1200.0 1217.2 L1198.0 1217.0Z" fill="#fff"/>
<path d="M1235.0 1227.2 L1239.0 1226.9 L1243.0 1226.6 L1247.0 1226.2 L1251.0 1225.9 L1255.0 1225.6 L1259.0 1225.4 L1263.0 1225.1 L1267.0 1224.8 L1271.0 1224.5 L1275.0 1224.2 L1279.0 1223.9 L1283.0 1223.7 L1287.0 1223.5 L1291.0 1223.3 L1295.0 1223.3 L1299.0 1223.1 L1303.0 1223.0 L1307.0 1222.9 L1311.0 1222.7 L1315.0 1222.5 L1319.0 1222.3 L1323.0 1222.1 L1327.0 1221.8 L1331.0 1221.6 L1335.0 1221.4 L1339.0 1221.2 L1343.0 1221.0 L1347.0 1220.8 L1351.0 1220.6 L1355.0 1220.6 L1359.0 1220.8 L1363.0 1221.0 L1367.0 1221.3 L1371.0 1221.6 L1375.0 1221.8 L1379.0 1222.0 L1383.0 1222.1 L1387.0 1222.2 L1391.0 1222.2 L1393.0 1222.4 L1391.0 1222.6 L1387.0 1223.9 L1383.0 1225.2 L1379.0 1226.2 L1375.0 1227.0 L1371.0 1227.8 L1367.0 1228.5 L1363.0 1229.2 L1359.0 1229.8 L1355.0 1230.3 L1351.0 1230.6 L1347.0 1230.8 L1343.0 1231.0 L1339.0 1231.1 L1335.0 1231.3 L1331.0 1231.5 L1327.0 1231.6 L1323.0 1231.8 L1319.0 1231.9 L1315.0 1232.0 L1311.0 1232.1 L1307.0 1232.1 L1303.0 1232.2 L1299.0 1232.2 L1295.0 1232.1 L1291.0 1232.0 L1287.0 1231.9 L1283.0 1231.6 L1279.0 1231.3 L1275.0 1231.0 L1271.0 1230.7 L1267.0 1230.3 L1263.0 1229.9 L1259.0 1229.6 L1255.0 1229.3 L1251.0 1229.0 L1247.0 1228.6 L1243.0 1228.3 L1239.0 1228.0 L1235.0 1227.6 L1233.0 1227.4Z" fill="#fff"/>
<path d="M1284.0 1240.0 L1288.0 1239.7 L1292.0 1239.3 L1296.0 1239.0 L1300.0 1238.7 L1304.0 1238.4 L1308.0 1238.1 L1312.0 1237.8 L1316.0 1237.6 L1320.0 1237.5 L1324.0 1237.5 L1328.0 1237.5 L1332.0 1237.5 L1336.0 1237.4 L1340.0 1237.4 L1344.0 1237.4 L1348.0 1237.3 L1352.0 1237.3 L1356.0 1237.5 L1360.0 1237.6 L1364.0 1237.6 L1368.0 1237.3 L1372.0 1236.8 L1374.0 1237.0 L1372.0 1237.2 L1368.0 1238.3 L1364.0 1239.4 L1360.0 1240.6 L1356.0 1241.9 L1352.0 1243.0 L1348.0 1243.3 L1344.0 1243.4 L1340.0 1243.4 L1336.0 1243.4 L1332.0 1243.5 L1328.0 1243.5 L1324.0 1243.5 L1320.0 1243.5 L1316.0 1243.3 L1312.0 1243.1 L1308.0 1242.7 L1304.0 1242.3 L1300.0 1241.9 L1296.0 1241.5 L1292.0 1241.1 L1288.0 1240.7 L1284.0 1240.4 L1282.0 1240.2Z" fill="#f4faff"/>
</g>
</g>
<g clip-path="url(#clipR)"><g filter="url(#jag)">
<g filter="url(#b1)"><path d="M1200.0 1214.8 L1204.0 1214.6 L1208.0 1214.4 L1212.0 1214.1 L1216.0 1213.8 L1220.0 1213.5 L1224.0 1213.2 L1228.0 1212.9 L1232.0 1212.4 L1236.0 1211.9 L1240.0 1211.2 L1244.0 1210.3 L1248.0 1209.3 L1252.0 1208.4 L1256.0 1207.6 L1260.0 1206.8 L1264.0 1206.1 L1268.0 1205.3 L1272.0 1204.6 L1276.0 1204.0 L1280.0 1203.6 L1284.0 1203.3 L1288.0 1203.0 L1292.0 1202.7 L1296.0 1202.5 L1300.0 1202.3 L1304.0 1202.0 L1308.0 1201.8 L1312.0 1201.5 L1316.0 1201.2 L1320.0 1200.9 L1324.0 1200.5 L1328.0 1200.0 L1332.0 1199.4 L1336.0 1198.7 L1340.0 1198.0 L1344.0 1197.4 L1348.0 1196.7 L1352.0 1196.2 L1356.0 1195.6 L1360.0 1195.0 L1364.0 1194.4 L1368.0 1193.8 L1372.0 1193.1 L1376.0 1192.3 L1380.0 1191.4 L1384.0 1190.4 L1388.0 1189.2 L1392.0 1188.2 L1396.0 1187.2 L1400.0 1186.3 L1404.0 1185.5 L1408.0 1184.6 L1412.0 1183.7 L1416.0 1182.8 L1420.0 1181.9 L1424.0 1180.9 L1428.0 1179.9 L1432.0 1178.9 L1436.0 1177.9 L1440.0 1176.8 L1444.0 1175.8 L1448.0 1174.7 L1452.0 1173.6 L1456.0 1172.5 L1460.0 1171.4 L1464.0 1170.3 L1468.0 1169.1 L1472.0 1167.9 L1476.0 1166.7 L1480.0 1165.4 L1484.0 1164.1 L1488.0 1162.5 L1492.0 1160.8 L1496.0 1158.9 L1500.0 1156.9 L1504.0 1155.0 L1508.0 1153.1 L1512.0 1151.3 L1516.0 1149.8 L1520.0 1148.5 L1524.0 1147.5 L1528.0 1146.7 L1532.0 1146.0 L1536.0 1145.4 L1540.0 1144.8 L1544.0 1144.2 L1548.0 1143.4 L1552.0 1142.5 L1556.0 1141.5 L1560.0 1140.3 L1564.0 1139.1 L1568.0 1137.8 L1572.0 1136.5 L1576.0 1135.2 L1580.0 1133.9 L1584.0 1132.7 L1588.0 1131.4 L1592.0 1130.0 L1596.0 1128.4 L1600.0 1126.7 L1604.0 1125.0 L1608.0 1123.4 L1612.0 1122.1 L1616.0 1120.8 L1620.0 1119.7 L1624.0 1118.6 L1628.0 1117.7 L1632.0 1116.8 L1636.0 1116.0 L1640.0 1115.2 L1644.0 1114.6 L1648.0 1114.1 L1652.0 1113.9 L1656.0 1113.7 L1660.0 1113.5 L1664.0 1113.2 L1668.0 1112.8 L1672.0 1112.5 L1676.0 1112.2 L1680.0 1111.9 L1684.0 1111.7 L1688.0 1114.0 L1684.0 1116.3 L1680.0 1117.8 L1676.0 1119.3 L1672.0 1120.7 L1668.0 1122.1 L1664.0 1123.5 L1660.0 1124.9 L1656.0 1126.3 L1652.0 1127.6 L1648.0 1128.9 L1644.0 1130.2 L1640.0 1131.5 L1636.0 1132.8 L1632.0 1134.2 L1628.0 1135.7 L1624.0 1137.1 L1620.0 1138.5 L1616.0 1139.9 L1612.0 1141.3 L1608.0 1142.6 L1604.0 1144.1 L1600.0 1145.6 L1596.0 1147.2 L1592.0 1148.6 L1588.0 1149.8 L1584.0 1150.8 L1580.0 1151.5 L1576.0 1151.9 L1572.0 1152.1 L1568.0 1152.3 L1564.0 1152.4 L1560.0 1152.6 L1556.0 1152.9 L1552.0 1153.4 L1548.0 1154.2 L1544.0 1155.2 L1540.0 1156.3 L1536.0 1157.5 L1532.0 1158.8 L1528.0 1160.1 L1524.0 1161.5 L1520.0 1162.9 L1516.0 1164.3 L1512.0 1166.1 L1508.0 1168.0 L1504.0 1170.1 L1500.0 1172.2 L1496.0 1174.3 L1492.0 1176.3 L1488.0 1178.1 L1484.0 1179.7 L1480.0 1181.1 L1476.0 1182.4 L1472.0 1183.6 L1468.0 1184.8 L1464.0 1186.0 L1460.0 1187.2 L1456.0 1188.3 L1452.0 1189.5 L1448.0 1190.7 L1444.0 1191.8 L1440.0 1192.9 L1436.0 1194.1 L1432.0 1195.2 L1428.0 1196.3 L1424.0 1197.5 L1420.0 1198.6 L1416.0 1199.8 L1412.0 1200.9 L1408.0 1202.0 L1404.0 1203.2 L1400.0 1204.4 L1396.0 1205.7 L1392.0 1207.0 L1388.0 1208.6 L1384.0 1210.3 L1380.0 1212.0 L1376.0 1213.3 L1372.0 1214.6 L1368.0 1215.8 L1364.0 1216.8 L1360.0 1217.9 L1356.0 1218.7 L1352.0 1219.5 L1348.0 1220.1 L1344.0 1220.6 L1340.0 1221.0 L1336.0 1221.4 L1332.0 1221.6 L1328.0 1221.9 L1324.0 1222.1 L1320.0 1222.2 L1316.0 1222.4 L1312.0 1222.6 L1308.0 1222.8 L1304.0 1222.9 L1300.0 1223.0 L1296.0 1223.2 L1292.0 1223.3 L1288.0 1223.4 L1284.0 1223.5 L1280.0 1223.6 L1276.0 1223.6 L1272.0 1223.6 L1268.0 1223.4 L1264.0 1223.2 L1260.0 1222.9 L1256.0 1222.7 L1252.0 1222.4 L1248.0 1222.1 L1244.0 1221.8 L1240.0 1221.5 L1236.0 1221.1 L1232.0 1220.9 L1228.0 1220.6 L1224.0 1220.4 L1220.0 1220.2 L1216.0 1220.0 L1212.0 1219.7 L1208.0 1219.6 L1204.0 1219.4 L1200.0 1219.2 L1196.0 1217.0Z" fill="#9cd0ff"/>
<path d="M1235.0 1225.4 L1239.0 1225.1 L1243.0 1224.8 L1247.0 1224.4 L1251.0 1224.1 L1255.0 1223.8 L1259.0 1223.6 L1263.0 1223.3 L1267.0 1223.0 L1271.0 1222.7 L1275.0 1222.4 L1279.0 1222.1 L1283.0 1221.9 L1287.0 1221.7 L1291.0 1221.5 L1295.0 1221.5 L1299.0 1221.3 L1303.0 1221.2 L1307.0 1221.1 L1311.0 1220.9 L1315.0 1220.7 L1319.0 1220.5 L1323.0 1220.3 L1327.0 1220.0 L1331.0 1219.8 L1335.0 1219.6 L1339.0 1219.4 L1343.0 1219.2 L1347.0 1219.0 L1351.0 1218.8 L1355.0 1218.8 L1359.0 1219.0 L1363.0 1219.2 L1367.0 1219.5 L1371.0 1219.8 L1375.0 1220.0 L1379.0 1220.2 L1383.0 1220.3 L1387.0 1220.4 L1391.0 1220.4 L1395.0 1222.4 L1391.0 1224.4 L1387.0 1225.7 L1383.0 1227.0 L1379.0 1228.0 L1375.0 1228.8 L1371.0 1229.6 L1367.0 1230.3 L1363.0 1231.0 L1359.0 1231.6 L1355.0 1232.1 L1351.0 1232.4 L1347.0 1232.6 L1343.0 1232.8 L1339.0 1232.9 L1335.0 1233.1 L1331.0 1233.3 L1327.0 1233.4 L1323.0 1233.6 L1319.0 1233.7 L1315.0 1233.8 L1311.0 1233.9 L1307.0 1233.9 L1303.0 1234.0 L1299.0 1234.0 L1295.0 1233.9 L1291.0 1233.8 L1287.0 1233.7 L1283.0 1233.4 L1279.0 1233.1 L1275.0 1232.8 L1271.0 1232.5 L1267.0 1232.1 L1263.0 1231.7 L1259.0 1231.4 L1255.0 1231.1 L1251.0 1230.8 L1247.0 1230.4 L1243.0 1230.1 L1239.0 1229.8 L1235.0 1229.4 L1231.0 1227.4Z" fill="#9cd0ff"/>
<path d="M1280.0 1238.6 L1284.0 1238.3 L1288.0 1237.9 L1292.0 1237.6 L1296.0 1237.3 L1300.0 1237.0 L1304.0 1236.8 L1308.0 1236.6 L1312.0 1236.5 L1316.0 1236.3 L1320.0 1236.3 L1324.0 1236.3 L1328.0 1236.3 L1332.0 1236.3 L1336.0 1236.2 L1340.0 1236.2 L1344.0 1236.2 L1348.0 1236.1 L1352.0 1236.0 L1356.0 1235.8 L1360.0 1235.5 L1364.0 1235.0 L1368.0 1234.5 L1372.0 1234.0 L1376.0 1233.3 L1380.0 1232.5 L1384.0 1231.6 L1388.0 1230.7 L1392.0 1229.8 L1396.0 1229.0 L1400.0 1228.2 L1404.0 1227.5 L1408.0 1226.7 L1412.0 1226.0 L1416.0 1225.3 L1420.0 1224.6 L1424.0 1223.9 L1429.0 1225.0 L1424.0 1226.1 L1420.0 1227.0 L1416.0 1228.0 L1412.0 1229.0 L1408.0 1230.0 L1404.0 1231.0 L1400.0 1232.1 L1396.0 1233.1 L1392.0 1234.2 L1388.0 1235.4 L1384.0 1236.6 L1380.0 1237.8 L1376.0 1239.0 L1372.0 1240.0 L1368.0 1241.0 L1364.0 1242.0 L1360.0 1243.0 L1356.0 1243.8 L1352.0 1244.3 L1348.0 1244.5 L1344.0 1244.6 L1340.0 1244.6 L1336.0 1244.6 L1332.0 1244.7 L1328.0 1244.7 L1324.0 1244.7 L1320.0 1244.7 L1316.0 1244.6 L1312.0 1244.5 L1308.0 1244.3 L1304.0 1244.1 L1300.0 1243.8 L1296.0 1243.5 L1292.0 1243.1 L1288.0 1242.7 L1284.0 1242.3 L1280.0 1241.8 L1275.0 1240.2Z" fill="#8cc8ff"/>
</g>
<g filter="url(#b06)"><path d="M1200.0 1216.8 L1204.0 1216.7 L1208.0 1216.5 L1212.0 1216.2 L1216.0 1215.9 L1220.0 1215.6 L1224.0 1215.3 L1228.0 1215.0 L1232.0 1214.5 L1236.0 1214.0 L1240.0 1213.3 L1244.0 1212.4 L1248.0 1211.4 L1252.0 1210.5 L1256.0 1209.7 L1260.0 1208.9 L1264.0 1208.2 L1268.0 1207.4 L1272.0 1206.7 L1276.0 1206.1 L1280.0 1205.7 L1284.0 1205.4 L1288.0 1205.1 L1292.0 1204.8 L1296.0 1204.6 L1300.0 1204.4 L1304.0 1204.1 L1308.0 1203.9 L1312.0 1203.6 L1316.0 1203.3 L1320.0 1203.0 L1324.0 1202.6 L1328.0 1202.1 L1332.0 1201.5 L1336.0 1200.8 L1340.0 1200.1 L1344.0 1199.5 L1348.0 1198.8 L1352.0 1198.3 L1356.0 1197.7 L1360.0 1197.1 L1364.0 1196.5 L1368.0 1195.9 L1372.0 1195.2 L1376.0 1194.4 L1380.0 1193.5 L1384.0 1192.5 L1388.0 1191.3 L1392.0 1190.3 L1396.0 1189.3 L1400.0 1188.4 L1404.0 1187.6 L1408.0 1186.7 L1412.0 1185.8 L1416.0 1184.9 L1420.0 1184.0 L1424.0 1183.0 L1428.0 1182.0 L1432.0 1181.0 L1436.0 1180.0 L1440.0 1178.9 L1444.0 1177.9 L1448.0 1176.8 L1452.0 1175.7 L1456.0 1174.6 L1460.0 1173.5 L1464.0 1172.4 L1468.0 1171.2 L1472.0 1170.0 L1476.0 1168.8 L1480.0 1167.5 L1484.0 1166.2 L1488.0 1164.6 L1492.0 1162.9 L1496.0 1161.0 L1500.0 1159.0 L1504.0 1157.1 L1508.0 1155.2 L1512.0 1153.4 L1516.0 1151.9 L1520.0 1150.6 L1524.0 1149.6 L1528.0 1148.8 L1532.0 1148.1 L1536.0 1147.5 L1540.0 1146.9 L1544.0 1146.3 L1548.0 1145.5 L1552.0 1144.6 L1556.0 1143.6 L1560.0 1142.4 L1564.0 1141.2 L1568.0 1139.9 L1572.0 1138.6 L1576.0 1137.3 L1580.0 1136.0 L1584.0 1134.8 L1588.0 1133.5 L1592.0 1132.1 L1596.0 1130.5 L1600.0 1128.8 L1604.0 1127.1 L1608.0 1125.5 L1612.0 1124.2 L1616.0 1122.9 L1620.0 1121.8 L1624.0 1120.7 L1628.0 1119.8 L1632.0 1118.9 L1636.0 1118.1 L1640.0 1117.3 L1644.0 1116.7 L1648.0 1116.2 L1652.0 1116.0 L1656.0 1115.8 L1660.0 1115.6 L1664.0 1115.3 L1668.0 1114.9 L1672.0 1114.6 L1676.0 1114.3 L1680.0 1114.0 L1684.0 1113.8 L1686.0 1114.0 L1684.0 1114.2 L1680.0 1115.7 L1676.0 1117.2 L1672.0 1118.6 L1668.0 1120.0 L1664.0 1121.4 L1660.0 1122.8 L1656.0 1124.2 L1652.0 1125.5 L1648.0 1126.8 L1644.0 1128.1 L1640.0 1129.4 L1636.0 1130.7 L1632.0 1132.1 L1628.0 1133.6 L1624.0 1135.0 L1620.0 1136.4 L1616.0 1137.8 L1612.0 1139.2 L1608.0 1140.5 L1604.0 1142.0 L1600.0 1143.5 L1596.0 1145.1 L1592.0 1146.5 L1588.0 1147.7 L1584.0 1148.7 L1580.0 1149.4 L1576.0 1149.8 L1572.0 1150.0 L1568.0 1150.2 L1564.0 1150.3 L1560.0 1150.5 L1556.0 1150.8 L1552.0 1151.3 L1548.0 1152.1 L1544.0 1153.1 L1540.0 1154.2 L1536.0 1155.4 L1532.0 1156.7 L1528.0 1158.0 L1524.0 1159.4 L1520.0 1160.8 L1516.0 1162.2 L1512.0 1164.0 L1508.0 1165.9 L1504.0 1168.0 L1500.0 1170.1 L1496.0 1172.2 L1492.0 1174.2 L1488.0 1176.0 L1484.0 1177.6 L1480.0 1179.0 L1476.0 1180.3 L1472.0 1181.5 L1468.0 1182.7 L1464.0 1183.9 L1460.0 1185.1 L1456.0 1186.2 L1452.0 1187.4 L1448.0 1188.6 L1444.0 1189.7 L1440.0 1190.8 L1436.0 1192.0 L1432.0 1193.1 L1428.0 1194.2 L1424.0 1195.4 L1420.0 1196.5 L1416.0 1197.7 L1412.0 1198.8 L1408.0 1199.9 L1404.0 1201.1 L1400.0 1202.3 L1396.0 1203.6 L1392.0 1204.9 L1388.0 1206.5 L1384.0 1208.2 L1380.0 1209.9 L1376.0 1211.2 L1372.0 1212.5 L1368.0 1213.7 L1364.0 1214.7 L1360.0 1215.8 L1356.0 1216.6 L1352.0 1217.4 L1348.0 1218.0 L1344.0 1218.5 L1340.0 1218.9 L1336.0 1219.3 L1332.0 1219.5 L1328.0 1219.8 L1324.0 1220.0 L1320.0 1220.1 L1316.0 1220.3 L1312.0 1220.5 L1308.0 1220.7 L1304.0 1220.8 L1300.0 1220.9 L1296.0 1221.1 L1292.0 1221.2 L1288.0 1221.3 L1284.0 1221.4 L1280.0 1221.5 L1276.0 1221.5 L1272.0 1221.5 L1268.0 1221.3 L1264.0 1221.1 L1260.0 1220.8 L1256.0 1220.6 L1252.0 1220.3 L1248.0 1220.0 L1244.0 1219.7 L1240.0 1219.4 L1236.0 1219.0 L1232.0 1218.8 L1228.0 1218.5 L1224.0 1218.3 L1220.0 1218.1 L1216.0 1217.9 L1212.0 1217.6 L1208.0 1217.5 L1204.0 1217.3 L1200.0 1217.2 L1198.0 1217.0Z" fill="#fff"/>
<path d="M1235.0 1227.2 L1239.0 1226.9 L1243.0 1226.6 L1247.0 1226.2 L1251.0 1225.9 L1255.0 1225.6 L1259.0 1225.4 L1263.0 1225.1 L1267.0 1224.8 L1271.0 1224.5 L1275.0 1224.2 L1279.0 1223.9 L1283.0 1223.7 L1287.0 1223.5 L1291.0 1223.3 L1295.0 1223.3 L1299.0 1223.1 L1303.0 1223.0 L1307.0 1222.9 L1311.0 1222.7 L1315.0 1222.5 L1319.0 1222.3 L1323.0 1222.1 L1327.0 1221.8 L1331.0 1221.6 L1335.0 1221.4 L1339.0 1221.2 L1343.0 1221.0 L1347.0 1220.8 L1351.0 1220.6 L1355.0 1220.6 L1359.0 1220.8 L1363.0 1221.0 L1367.0 1221.3 L1371.0 1221.6 L1375.0 1221.8 L1379.0 1222.0 L1383.0 1222.1 L1387.0 1222.2 L1391.0 1222.2 L1393.0 1222.4 L1391.0 1222.6 L1387.0 1223.9 L1383.0 1225.2 L1379.0 1226.2 L1375.0 1227.0 L1371.0 1227.8 L1367.0 1228.5 L1363.0 1229.2 L1359.0 1229.8 L1355.0 1230.3 L1351.0 1230.6 L1347.0 1230.8 L1343.0 1231.0 L1339.0 1231.1 L1335.0 1231.3 L1331.0 1231.5 L1327.0 1231.6 L1323.0 1231.8 L1319.0 1231.9 L1315.0 1232.0 L1311.0 1232.1 L1307.0 1232.1 L1303.0 1232.2 L1299.0 1232.2 L1295.0 1232.1 L1291.0 1232.0 L1287.0 1231.9 L1283.0 1231.6 L1279.0 1231.3 L1275.0 1231.0 L1271.0 1230.7 L1267.0 1230.3 L1263.0 1229.9 L1259.0 1229.6 L1255.0 1229.3 L1251.0 1229.0 L1247.0 1228.6 L1243.0 1228.3 L1239.0 1228.0 L1235.0 1227.6 L1233.0 1227.4Z" fill="#fff"/>
<path d="M1284.0 1240.0 L1288.0 1239.7 L1292.0 1239.3 L1296.0 1239.0 L1300.0 1238.7 L1304.0 1238.4 L1308.0 1238.1 L1312.0 1237.8 L1316.0 1237.6 L1320.0 1237.5 L1324.0 1237.5 L1328.0 1237.5 L1332.0 1237.5 L1336.0 1237.4 L1340.0 1237.4 L1344.0 1237.4 L1348.0 1237.3 L1352.0 1237.3 L1356.0 1237.5 L1360.0 1237.6 L1364.0 1237.6 L1368.0 1237.3 L1372.0 1236.8 L1374.0 1237.0 L1372.0 1237.2 L1368.0 1238.3 L1364.0 1239.4 L1360.0 1240.6 L1356.0 1241.9 L1352.0 1243.0 L1348.0 1243.3 L1344.0 1243.4 L1340.0 1243.4 L1336.0 1243.4 L1332.0 1243.5 L1328.0 1243.5 L1324.0 1243.5 L1320.0 1243.5 L1316.0 1243.3 L1312.0 1243.1 L1308.0 1242.7 L1304.0 1242.3 L1300.0 1241.9 L1296.0 1241.5 L1292.0 1241.1 L1288.0 1240.7 L1284.0 1240.4 L1282.0 1240.2Z" fill="#f4faff"/>
</g>
</g></g>
<g filter="url(#b1)" stroke-linecap="round" fill="none">
<path d="M1340 1188 Q1370 1182 1395 1173" stroke="#0a48d0" stroke-width="2.5"/>
<path d="M1400 1180 Q1430 1172 1452 1163" stroke="#0a48d0" stroke-width="2.5"/>
<path d="M1300 1196 Q1340 1193 1372 1186" stroke="#1058e0" stroke-width="2.5"/>
<path d="M1455 1160 Q1490 1148 1520 1136" stroke="#0838c0" stroke-width="2.2"/>
<path d="M1566 1109 Q1600 1099 1640 1091" stroke="#0830b8" stroke-width="3.0"/>
<path d="M1570 1112 Q1604 1101 1644 1094" stroke="#041c90" stroke-width="7.0"/>
<path d="M1500 1143 Q1540 1128 1575 1118" stroke="#062ab0" stroke-width="2.2"/>
<path d="M1420 1205 Q1450 1199 1480 1190" stroke="#0a40c8" stroke-width="2.5"/>
<path d="M1400 1225 Q1440 1218 1470 1208" stroke="#0830b8" stroke-width="2.5"/>
<path d="M1380 1244 Q1420 1240 1450 1232" stroke="#0830b8" stroke-width="2.5"/>
</g>
<g filter="url(#b2)"><ellipse cx="1766" cy="1051" rx="5" ry="4" fill="#0a50d8"/></g>
<g filter="url(#b2)"><path d="M318.2 964 Q318.4 962 321 962 L327.8 962.5 L343 965.1 L358 966.4 L373.2 967.4 L390.6 967.9 L404 968 L411.5 968.6 Q414.2 970.8 412.6 973.4 L403.5 975 L390.6 975.1 L380.8 975.6 L365.6 975.6 L350.5 975 L343 974.4 L332.4 972.7 L322.5 969.3 L319 966.2Z" fill="#0018b0" stroke="#0018b0" stroke-width="4.5" stroke-linejoin="round"/></g>
<g filter="url(#b07)"><path d="M318.2 964 Q318.4 962 321 962 L327.8 962.5 L343 965.1 L358 966.4 L373.2 967.4 L390.6 967.9 L404 968 L411.5 968.6 Q414.2 970.8 412.6 973.4 L403.5 975 L390.6 975.1 L380.8 975.6 L365.6 975.6 L350.5 975 L343 974.4 L332.4 972.7 L322.5 969.3 L319 966.2Z" fill="#1684ff" stroke="#0c5ce8" stroke-width="1.6" stroke-linejoin="round"/></g>
<g filter="url(#b06)"><path d="M318.9 964.1 Q319 962.7 321 962.7 L327.8 963.2 L343 965.8 L358 967.1 L373.2 968.1 L389 968.6 L393.5 969.6 L391.5 973.6 L386 974.6 L380.8 974.9 L365.6 974.9 L350.5 974.3 L343 973.7 L332.6 972 L323 968.8 L319.6 966Z" fill="#fff"/></g>
<g filter="url(#b5)"><ellipse cx="372" cy="1064" rx="52" ry="13" fill="#000666"/><ellipse cx="338" cy="1062" rx="36" ry="14" fill="#000c98"/><ellipse cx="190" cy="1078" rx="10" ry="6" fill="#000a90"/></g>
<g filter="url(#b1)" stroke-linecap="round" fill="none">
<path d="M306 1047 L336 1056" stroke="#0838c8" stroke-width="2.6"/>
<path d="M316 1055.5 L352 1061.5" stroke="#0a64ec" stroke-width="3.0"/>
<path d="M322 1056.5 L342 1059.5" stroke="#22a0f8" stroke-width="2.2"/>
<path d="M304 1061 L346 1070" stroke="#0a58e0" stroke-width="3.2"/>
<path d="M312 1064.5 L338 1069.5" stroke="#24a4fa" stroke-width="2.4"/>
<path d="M340 1063 L372 1066" stroke="#0838c8" stroke-width="2.2"/>
<path d="M318 1074 L350 1078" stroke="#0630b8" stroke-width="2.6"/>
<path d="M355 1056 L395 1058" stroke="#0424a0" stroke-width="2.2"/>
<path d="M360 1070 L410 1072" stroke="#0424a0" stroke-width="2.2"/>
<path d="M183 1081 L188 1074" stroke="#0c58dc" stroke-width="2.2"/>
<path d="M190 1080 L196 1072.5" stroke="#1478ec" stroke-width="2.4"/>
<path d="M197 1078 L201 1073" stroke="#0838c8" stroke-width="2.0"/>
</g>
</g>
<path d="M163.50 1301.00 V767.00 M233.22 1301.00 V767.00 M302.93 1301.00 V767.00 M372.65 1301.00 V767.00 M442.37 1301.00 V767.00 M512.08 1301.00 V767.00 M581.80 1301.00 V767.00 M651.52 1301.00 V767.00 M721.23 1301.00 V767.00 M790.95 1301.00 V767.00 M860.67 1301.00 V767.00 M930.38 1301.00 V767.00 M1000.10 1301.00 V767.00 M1069.82 1301.00 V767.00 M1139.53 1301.00 V767.00 M1209.25 1301.00 V767.00 M1278.97 1301.00 V767.00 M1348.68 1301.00 V767.00 M1418.40 1301.00 V767.00 M1488.12 1301.00 V767.00 M1557.83 1301.00 V767.00 M1627.55 1301.00 V767.00 M1697.27 1301.00 V767.00 M1766.98 1301.00 V767.00 M1836.70 1301.00 V767.00" stroke="#fff" stroke-width="3" stroke-dasharray="3 8.025" fill="none"/>
<path d="M163.50 820.64 H1836.70 M163.50 874.08 H1836.70 M163.50 927.52 H1836.70 M163.50 980.96 H1836.70 M163.50 1034.40 H1836.70 M163.50 1087.84 H1836.70 M163.50 1141.28 H1836.70 M163.50 1194.72 H1836.70 M163.50 1248.16 H1836.70" stroke="#fff" stroke-width="3" stroke-dasharray="3 8.025" fill="none"/>
<path d="M1648.2 781.1 V1301.4" stroke="#0e60cc" stroke-width="3.8" stroke-dasharray="16.2 15.26" fill="none"/>
<path d="M138.3 767.30 H164.00 M151.2 777.99 H164.00 M151.2 788.68 H164.00 M151.2 799.36 H164.00 M151.2 810.05 H164.00 M151.2 820.74 H164.00 M151.2 831.43 H164.00 M151.2 842.12 H164.00 M151.2 852.80 H164.00 M151.2 863.49 H164.00 M138.3 874.18 H164.00 M151.2 884.87 H164.00 M151.2 895.56 H164.00 M151.2 906.24 H164.00 M151.2 916.93 H164.00 M151.2 927.62 H164.00 M151.2 938.31 H164.00 M151.2 949.00 H164.00 M151.2 959.68 H164.00 M151.2 970.37 H164.00 M138.3 981.06 H164.00 M151.2 991.75 H164.00 M151.2 1002.44 H164.00 M151.2 1013.12 H164.00 M151.2 1023.81 H164.00 M151.2 1034.50 H164.00 M151.2 1045.19 H164.00 M151.2 1055.88 H164.00 M151.2 1066.56 H164.00 M151.2 1077.25 H164.00 M138.3 1087.94 H164.00 M151.2 1098.63 H164.00 M151.2 1109.32 H164.00 M151.2 1120.00 H164.00 M151.2 1130.69 H164.00 M151.2 1141.38 H164.00 M151.2 1152.07 H164.00 M151.2 1162.76 H164.00 M151.2 1173.44 H164.00 M151.2 1184.13 H164.00 M138.3 1194.82 H164.00 M151.2 1205.51 H164.00 M151.2 1216.20 H164.00 M151.2 1226.88 H164.00 M151.2 1237.57 H164.00 M151.2 1248.26 H164.00 M151.2 1258.95 H164.00 M151.2 1269.64 H164.00 M151.2 1280.32 H164.00 M151.2 1291.01 H164.00 M138.3 1301.70 H164.00" stroke="#1a1a1a" stroke-width="1.25" fill="none"/>
<path d="M163.50 1300.90 V1309.40 M233.22 1300.90 V1305.20 M302.93 1300.90 V1305.20 M372.65 1300.90 V1305.20 M442.37 1300.90 V1305.20 M512.08 1300.90 V1305.20 M581.80 1300.90 V1309.40 M651.52 1300.90 V1305.20 M721.23 1300.90 V1305.20 M790.95 1300.90 V1305.20 M860.67 1300.90 V1305.20 M930.38 1300.90 V1305.20 M1000.10 1300.90 V1309.40 M1069.82 1300.90 V1305.20 M1139.53 1300.90 V1305.20 M1209.25 1300.90 V1305.20 M1278.97 1300.90 V1305.20 M1348.68 1300.90 V1305.20 M1418.40 1300.90 V1309.40 M1488.12 1300.90 V1305.20 M1557.83 1300.90 V1305.20 M1627.55 1300.90 V1305.20 M1697.27 1300.90 V1305.20 M1766.98 1300.90 V1305.20 M1836.70 1300.90 V1309.40" stroke="#1a1a1a" stroke-width="1.25" fill="none"/>
<text transform="translate(129.30 789.40) scale(1 1.050)" font-size="37.00" text-anchor="end">-40</text>
<text transform="translate(129.30 886.58) scale(1 1.050)" font-size="37.00" text-anchor="end">-50</text>
<text transform="translate(129.30 993.46) scale(1 1.050)" font-size="37.00" text-anchor="end">-60</text>
<text transform="translate(129.30 1100.34) scale(1 1.050)" font-size="37.00" text-anchor="end">-70</text>
<text transform="translate(129.30 1207.22) scale(1 1.050)" font-size="37.00" text-anchor="end">-80</text>
<text transform="translate(129.30 1301.60) scale(1 1.050)" font-size="37.00" text-anchor="end">-90</text>
<text transform="translate(164.10 1355.90) scale(1 1.050)" font-size="37.00" text-anchor="middle">0</text>
<text transform="translate(582.40 1355.90) scale(1 1.050)" font-size="37.00" text-anchor="middle">90</text>
<text transform="translate(1000.70 1355.90) scale(1 1.050)" font-size="37.00" text-anchor="middle">180</text>
<text transform="translate(1419.00 1355.90) scale(1 1.050)" font-size="37.00" text-anchor="middle">270</text>
<text transform="translate(1837.30 1355.90) scale(1 1.050)" font-size="37.00" text-anchor="middle">360</text>
<text transform="translate(999.50 1395.00) scale(1 1.050)" font-size="36.70" text-anchor="middle">SIII Longitude (<tspan font-size="28.9" dx="-1.2" dy="-4">°</tspan><tspan dx="-1.2" dy="4">)</tspan></text>
<text transform="translate(1000.50 751.00) scale(1 1.030)" font-size="41.65" text-anchor="middle">Southern hemisphere</text>
<text transform="translate(47.50 1033.70) rotate(-90) scale(1 1.050)" font-size="36.70" text-anchor="middle">Latitude (<tspan font-size="28.9" dx="-1.2" dy="-4">°</tspan><tspan dx="-1.2" dy="4">)</tspan></text>
</g>
<g id="colorbar">
<rect x="1850" y="1089" width="39.9" height="211.3" fill="#000"/>
<rect x="1852.1" y="1091.1" width="35.7" height="207.2" fill="url(#cbar)"/>
<path d="M1852 1291.44 h1.6 M1888 1291.44 h-1.6 M1852 1284.49 h1.6 M1888 1284.49 h-1.6 M1852 1277.53 h1.6 M1888 1277.53 h-1.6 M1852 1270.57 h3.2 M1888 1270.57 h-3.2 M1852 1263.61 h1.6 M1888 1263.61 h-1.6 M1852 1256.66 h1.6 M1888 1256.66 h-1.6 M1852 1249.70 h1.6 M1888 1249.70 h-1.6 M1852 1242.74 h3.2 M1888 1242.74 h-3.2 M1852 1235.78 h1.6 M1888 1235.78 h-1.6 M1852 1228.83 h1.6 M1888 1228.83 h-1.6 M1852 1221.87 h1.6 M1888 1221.87 h-1.6 M1852 1214.91 h3.2 M1888 1214.91 h-3.2 M1852 1207.95 h1.6 M1888 1207.95 h-1.6 M1852 1201.00 h1.6 M1888 1201.00 h-1.6 M1852 1194.04 h1.6 M1888 1194.04 h-1.6 M1852 1187.08 h3.2 M1888 1187.08 h-3.2 M1852 1180.12 h1.6 M1888 1180.12 h-1.6 M1852 1173.17 h1.6 M1888 1173.17 h-1.6 M1852 1166.21 h1.6 M1888 1166.21 h-1.6 M1852 1159.25 h3.2 M1888 1159.25 h-3.2 M1852 1152.29 h1.6 M1888 1152.29 h-1.6 M1852 1145.34 h1.6 M1888 1145.34 h-1.6 M1852 1138.38 h1.6 M1888 1138.38 h-1.6 M1852 1131.42 h3.2 M1888 1131.42 h-3.2 M1852 1124.46 h1.6 M1888 1124.46 h-1.6 M1852 1117.51 h1.6 M1888 1117.51 h-1.6 M1852 1110.55 h1.6 M1888 1110.55 h-1.6 M1852 1103.59 h3.2 M1888 1103.59 h-3.2 M1852 1096.63 h1.6 M1888 1096.63 h-1.6 M1859.24 1091 v1.8 M1866.38 1091 v1.8 M1873.52 1091 v1.8 M1880.66 1091 v1.8" stroke="#000" stroke-width="1.4" fill="none"/>
<text transform="translate(1897.40 1281.77) scale(1 1.110)" font-size="29.70" text-anchor="start">200</text>
<text transform="translate(1897.40 1253.94) scale(1 1.110)" font-size="29.70" text-anchor="start">400</text>
<text transform="translate(1897.40 1226.11) scale(1 1.110)" font-size="29.70" text-anchor="start">600</text>
<text transform="translate(1897.40 1198.28) scale(1 1.110)" font-size="29.70" text-anchor="start">800</text>
<text transform="translate(1897.40 1170.45) scale(1 1.110)" font-size="29.70" text-anchor="start">1000</text>
<text transform="translate(1897.40 1142.62) scale(1 1.110)" font-size="29.70" text-anchor="start">1200</text>
<text transform="translate(1897.40 1114.79) scale(1 1.110)" font-size="29.70" text-anchor="start">1400</text>
<text transform="translate(1837.60 1078.00) scale(1 1.090)" font-size="29.80" text-anchor="start">kR H<tspan font-size="13.5" dx="-0.5" dy="3.6">2</tspan></text>
</g>
</svg>
</body></html>
